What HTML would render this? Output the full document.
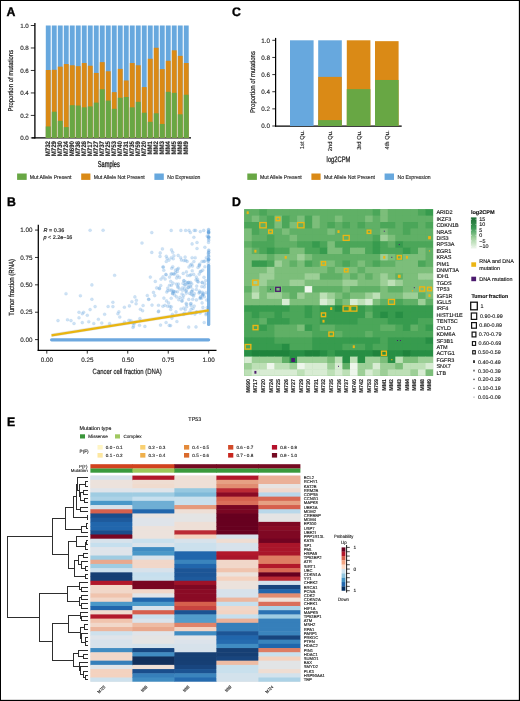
<!DOCTYPE html>
<html><head><meta charset="utf-8"><style>html,body{margin:0;padding:0;background:#fff;}svg{display:block;will-change:transform;}text{font-family:"Liberation Sans",sans-serif;}</style></head>
<body><svg width="520" height="701" viewBox="0 0 520 701" font-family="Liberation Sans, sans-serif" text-rendering="geometricPrecision">
<rect x="0.00" y="0.00" width="520.00" height="701.00" fill="#000"/>
<rect x="1.00" y="1.00" width="517.85" height="698.85" fill="#fff"/>
<text x="6.40" y="15.85" font-size="12.3" text-anchor="start" fill="#000" font-weight="bold" stroke="#000" stroke-width="0.35">A</text>
<text x="232.10" y="15.85" font-size="12.3" text-anchor="start" fill="#000" font-weight="bold" stroke="#000" stroke-width="0.35">C</text>
<text x="7.10" y="205.85" font-size="12.3" text-anchor="start" fill="#000" font-weight="bold" stroke="#000" stroke-width="0.35">B</text>
<text x="232.10" y="205.70" font-size="12.3" text-anchor="start" fill="#000" font-weight="bold" stroke="#000" stroke-width="0.35">D</text>
<text x="7.00" y="426.40" font-size="12.3" text-anchor="start" fill="#000" font-weight="bold" stroke="#000" stroke-width="0.35">E</text>
<line x1="34.90" y1="23.00" x2="34.90" y2="138.50" stroke="#000" stroke-width="1.3"/>
<line x1="31.80" y1="137.90" x2="191.00" y2="137.90" stroke="#000" stroke-width="1.3"/>
<line x1="30.80" y1="137.90" x2="34.90" y2="137.90" stroke="#000" stroke-width="0.8"/>
<text x="28.80" y="140.10" font-size="6.2" text-anchor="end" fill="#222" stroke="#222" stroke-width="0.12">0.0</text>
<line x1="30.80" y1="115.42" x2="34.90" y2="115.42" stroke="#000" stroke-width="0.8"/>
<text x="28.80" y="117.62" font-size="6.2" text-anchor="end" fill="#222" stroke="#222" stroke-width="0.12">0.2</text>
<line x1="30.80" y1="92.94" x2="34.90" y2="92.94" stroke="#000" stroke-width="0.8"/>
<text x="28.80" y="95.14" font-size="6.2" text-anchor="end" fill="#222" stroke="#222" stroke-width="0.12">0.4</text>
<line x1="30.80" y1="70.46" x2="34.90" y2="70.46" stroke="#000" stroke-width="0.8"/>
<text x="28.80" y="72.66" font-size="6.2" text-anchor="end" fill="#222" stroke="#222" stroke-width="0.12">0.6</text>
<line x1="30.80" y1="47.98" x2="34.90" y2="47.98" stroke="#000" stroke-width="0.8"/>
<text x="28.80" y="50.18" font-size="6.2" text-anchor="end" fill="#222" stroke="#222" stroke-width="0.12">0.8</text>
<line x1="30.80" y1="25.50" x2="34.90" y2="25.50" stroke="#000" stroke-width="0.8"/>
<text x="28.80" y="27.70" font-size="6.2" text-anchor="end" fill="#222" stroke="#222" stroke-width="0.12">1.0</text>
<text x="13.40" y="80.70" font-size="7.0" text-anchor="middle" fill="#1a1a1a" textLength="61.6" lengthAdjust="spacingAndGlyphs" transform="rotate(-90 13.40 80.70)" stroke="#1a1a1a" stroke-width="0.2">Proportion of mutations</text>
<rect x="45.80" y="25.50" width="4.90" height="112.40" fill="#67a8de"/>
<rect x="45.80" y="70.01" width="4.90" height="67.89" fill="#da8a16"/>
<rect x="45.80" y="126.44" width="4.90" height="11.46" fill="#68a744"/>
<text x="50.25" y="141.00" font-size="6.6" text-anchor="end" fill="#222" font-weight="bold" textLength="15.3" lengthAdjust="spacingAndGlyphs" transform="rotate(-90 50.25 141.00)" stroke="#222" stroke-width="0.12">M732</text>
<rect x="51.80" y="25.50" width="4.90" height="112.40" fill="#67a8de"/>
<rect x="51.80" y="69.79" width="4.90" height="68.11" fill="#da8a16"/>
<rect x="51.80" y="111.71" width="4.90" height="26.19" fill="#68a744"/>
<text x="56.25" y="141.00" font-size="6.6" text-anchor="end" fill="#222" font-weight="bold" textLength="15.3" lengthAdjust="spacingAndGlyphs" transform="rotate(-90 56.25 141.00)" stroke="#222" stroke-width="0.12">M729</text>
<rect x="57.80" y="25.50" width="4.90" height="112.40" fill="#67a8de"/>
<rect x="57.80" y="66.64" width="4.90" height="71.26" fill="#da8a16"/>
<rect x="57.80" y="120.82" width="4.90" height="17.08" fill="#68a744"/>
<text x="62.25" y="141.00" font-size="6.6" text-anchor="end" fill="#222" font-weight="bold" textLength="15.3" lengthAdjust="spacingAndGlyphs" transform="rotate(-90 62.25 141.00)" stroke="#222" stroke-width="0.12">M730</text>
<rect x="63.80" y="25.50" width="4.90" height="112.40" fill="#67a8de"/>
<rect x="63.80" y="64.05" width="4.90" height="73.85" fill="#da8a16"/>
<rect x="63.80" y="127.11" width="4.90" height="10.79" fill="#68a744"/>
<text x="68.25" y="141.00" font-size="6.6" text-anchor="end" fill="#222" font-weight="bold" textLength="15.3" lengthAdjust="spacingAndGlyphs" transform="rotate(-90 68.25 141.00)" stroke="#222" stroke-width="0.12">M724</text>
<rect x="69.80" y="25.50" width="4.90" height="112.40" fill="#67a8de"/>
<rect x="69.80" y="65.29" width="4.90" height="72.61" fill="#da8a16"/>
<rect x="69.80" y="105.19" width="4.90" height="32.71" fill="#68a744"/>
<text x="74.25" y="141.00" font-size="6.6" text-anchor="end" fill="#222" font-weight="bold" textLength="15.3" lengthAdjust="spacingAndGlyphs" transform="rotate(-90 74.25 141.00)" stroke="#222" stroke-width="0.12">M690</text>
<rect x="75.80" y="25.50" width="4.90" height="112.40" fill="#67a8de"/>
<rect x="75.80" y="66.19" width="4.90" height="71.71" fill="#da8a16"/>
<rect x="75.80" y="105.53" width="4.90" height="32.37" fill="#68a744"/>
<text x="80.25" y="141.00" font-size="6.6" text-anchor="end" fill="#222" font-weight="bold" textLength="15.3" lengthAdjust="spacingAndGlyphs" transform="rotate(-90 80.25 141.00)" stroke="#222" stroke-width="0.12">M736</text>
<rect x="81.80" y="25.50" width="4.90" height="112.40" fill="#67a8de"/>
<rect x="81.80" y="63.04" width="4.90" height="74.86" fill="#da8a16"/>
<rect x="81.80" y="107.33" width="4.90" height="30.57" fill="#68a744"/>
<text x="86.25" y="141.00" font-size="6.6" text-anchor="end" fill="#222" font-weight="bold" textLength="15.3" lengthAdjust="spacingAndGlyphs" transform="rotate(-90 86.25 141.00)" stroke="#222" stroke-width="0.12">M726</text>
<rect x="87.80" y="25.50" width="4.90" height="112.40" fill="#67a8de"/>
<rect x="87.80" y="65.74" width="4.90" height="72.16" fill="#da8a16"/>
<rect x="87.80" y="106.43" width="4.90" height="31.47" fill="#68a744"/>
<text x="92.25" y="141.00" font-size="6.6" text-anchor="end" fill="#222" font-weight="bold" textLength="15.3" lengthAdjust="spacingAndGlyphs" transform="rotate(-90 92.25 141.00)" stroke="#222" stroke-width="0.12">M717</text>
<rect x="93.80" y="25.50" width="4.90" height="112.40" fill="#67a8de"/>
<rect x="93.80" y="72.93" width="4.90" height="64.97" fill="#da8a16"/>
<rect x="93.80" y="102.61" width="4.90" height="35.29" fill="#68a744"/>
<text x="98.25" y="141.00" font-size="6.6" text-anchor="end" fill="#222" font-weight="bold" textLength="15.3" lengthAdjust="spacingAndGlyphs" transform="rotate(-90 98.25 141.00)" stroke="#222" stroke-width="0.12">M727</text>
<rect x="99.80" y="25.50" width="4.90" height="112.40" fill="#67a8de"/>
<rect x="99.80" y="62.14" width="4.90" height="75.76" fill="#da8a16"/>
<rect x="99.80" y="89.23" width="4.90" height="48.67" fill="#68a744"/>
<text x="104.25" y="141.00" font-size="6.6" text-anchor="end" fill="#222" font-weight="bold" textLength="15.3" lengthAdjust="spacingAndGlyphs" transform="rotate(-90 104.25 141.00)" stroke="#222" stroke-width="0.12">M737</text>
<rect x="105.80" y="25.50" width="4.90" height="112.40" fill="#67a8de"/>
<rect x="105.80" y="71.25" width="4.90" height="66.65" fill="#da8a16"/>
<rect x="105.80" y="100.58" width="4.90" height="37.32" fill="#68a744"/>
<text x="110.25" y="141.00" font-size="6.6" text-anchor="end" fill="#222" font-weight="bold" textLength="15.3" lengthAdjust="spacingAndGlyphs" transform="rotate(-90 110.25 141.00)" stroke="#222" stroke-width="0.12">M725</text>
<rect x="111.80" y="25.50" width="4.90" height="112.40" fill="#67a8de"/>
<rect x="111.80" y="92.15" width="4.90" height="45.75" fill="#da8a16"/>
<rect x="111.80" y="108.79" width="4.90" height="29.11" fill="#68a744"/>
<text x="116.25" y="141.00" font-size="6.6" text-anchor="end" fill="#222" font-weight="bold" textLength="15.3" lengthAdjust="spacingAndGlyphs" transform="rotate(-90 116.25 141.00)" stroke="#222" stroke-width="0.12">M753</text>
<rect x="117.80" y="25.50" width="4.90" height="112.40" fill="#67a8de"/>
<rect x="117.80" y="68.89" width="4.90" height="69.01" fill="#da8a16"/>
<rect x="117.80" y="97.77" width="4.90" height="40.13" fill="#68a744"/>
<text x="122.25" y="141.00" font-size="6.6" text-anchor="end" fill="#222" font-weight="bold" textLength="15.3" lengthAdjust="spacingAndGlyphs" transform="rotate(-90 122.25 141.00)" stroke="#222" stroke-width="0.12">M740</text>
<rect x="123.80" y="25.50" width="4.90" height="112.40" fill="#67a8de"/>
<rect x="123.80" y="80.46" width="4.90" height="57.44" fill="#da8a16"/>
<rect x="123.80" y="96.99" width="4.90" height="40.91" fill="#68a744"/>
<text x="128.25" y="141.00" font-size="6.6" text-anchor="end" fill="#222" font-weight="bold" textLength="15.3" lengthAdjust="spacingAndGlyphs" transform="rotate(-90 128.25 141.00)" stroke="#222" stroke-width="0.12">M731</text>
<rect x="129.80" y="25.50" width="4.90" height="112.40" fill="#67a8de"/>
<rect x="129.80" y="63.04" width="4.90" height="74.86" fill="#da8a16"/>
<rect x="129.80" y="107.33" width="4.90" height="30.57" fill="#68a744"/>
<text x="134.25" y="141.00" font-size="6.6" text-anchor="end" fill="#222" font-weight="bold" textLength="15.3" lengthAdjust="spacingAndGlyphs" transform="rotate(-90 134.25 141.00)" stroke="#222" stroke-width="0.12">M735</text>
<rect x="135.80" y="25.50" width="4.90" height="112.40" fill="#67a8de"/>
<rect x="135.80" y="65.29" width="4.90" height="72.61" fill="#da8a16"/>
<rect x="135.80" y="101.82" width="4.90" height="36.08" fill="#68a744"/>
<text x="140.25" y="141.00" font-size="6.6" text-anchor="end" fill="#222" font-weight="bold" textLength="15.3" lengthAdjust="spacingAndGlyphs" transform="rotate(-90 140.25 141.00)" stroke="#222" stroke-width="0.12">M759</text>
<rect x="141.80" y="25.50" width="4.90" height="112.40" fill="#67a8de"/>
<rect x="141.80" y="87.10" width="4.90" height="50.80" fill="#da8a16"/>
<rect x="141.80" y="112.72" width="4.90" height="25.18" fill="#68a744"/>
<text x="146.25" y="141.00" font-size="6.6" text-anchor="end" fill="#222" font-weight="bold" textLength="15.3" lengthAdjust="spacingAndGlyphs" transform="rotate(-90 146.25 141.00)" stroke="#222" stroke-width="0.12">M720</text>
<rect x="147.80" y="25.50" width="4.90" height="112.40" fill="#67a8de"/>
<rect x="147.80" y="58.77" width="4.90" height="79.13" fill="#da8a16"/>
<rect x="147.80" y="121.83" width="4.90" height="16.07" fill="#68a744"/>
<text x="152.25" y="141.00" font-size="6.6" text-anchor="end" fill="#222" font-weight="bold" textLength="13.6" lengthAdjust="spacingAndGlyphs" transform="rotate(-90 152.25 141.00)" stroke="#222" stroke-width="0.12">MM1</text>
<rect x="153.80" y="25.50" width="4.90" height="112.40" fill="#67a8de"/>
<rect x="153.80" y="47.76" width="4.90" height="90.14" fill="#da8a16"/>
<rect x="153.80" y="113.28" width="4.90" height="24.62" fill="#68a744"/>
<text x="158.25" y="141.00" font-size="6.6" text-anchor="end" fill="#222" font-weight="bold" textLength="13.6" lengthAdjust="spacingAndGlyphs" transform="rotate(-90 158.25 141.00)" stroke="#222" stroke-width="0.12">MM2</text>
<rect x="159.80" y="25.50" width="4.90" height="112.40" fill="#67a8de"/>
<rect x="159.80" y="69.11" width="4.90" height="68.79" fill="#da8a16"/>
<rect x="159.80" y="123.96" width="4.90" height="13.94" fill="#68a744"/>
<text x="164.25" y="141.00" font-size="6.6" text-anchor="end" fill="#222" font-weight="bold" textLength="13.6" lengthAdjust="spacingAndGlyphs" transform="rotate(-90 164.25 141.00)" stroke="#222" stroke-width="0.12">MM3</text>
<rect x="165.80" y="25.50" width="4.90" height="112.40" fill="#67a8de"/>
<rect x="165.80" y="60.79" width="4.90" height="77.11" fill="#da8a16"/>
<rect x="165.80" y="91.82" width="4.90" height="46.08" fill="#68a744"/>
<text x="170.25" y="141.00" font-size="6.6" text-anchor="end" fill="#222" font-weight="bold" textLength="13.6" lengthAdjust="spacingAndGlyphs" transform="rotate(-90 170.25 141.00)" stroke="#222" stroke-width="0.12">MM4</text>
<rect x="171.80" y="25.50" width="4.90" height="112.40" fill="#67a8de"/>
<rect x="171.80" y="50.34" width="4.90" height="87.56" fill="#da8a16"/>
<rect x="171.80" y="92.83" width="4.90" height="45.07" fill="#68a744"/>
<text x="176.25" y="141.00" font-size="6.6" text-anchor="end" fill="#222" font-weight="bold" textLength="13.6" lengthAdjust="spacingAndGlyphs" transform="rotate(-90 176.25 141.00)" stroke="#222" stroke-width="0.12">MM5</text>
<rect x="177.80" y="25.50" width="4.90" height="112.40" fill="#67a8de"/>
<rect x="177.80" y="55.85" width="4.90" height="82.05" fill="#da8a16"/>
<rect x="177.80" y="114.30" width="4.90" height="23.60" fill="#68a744"/>
<text x="182.25" y="141.00" font-size="6.6" text-anchor="end" fill="#222" font-weight="bold" textLength="13.6" lengthAdjust="spacingAndGlyphs" transform="rotate(-90 182.25 141.00)" stroke="#222" stroke-width="0.12">MM8</text>
<rect x="183.80" y="25.50" width="4.90" height="112.40" fill="#67a8de"/>
<rect x="183.80" y="63.04" width="4.90" height="74.86" fill="#da8a16"/>
<rect x="183.80" y="94.74" width="4.90" height="43.16" fill="#68a744"/>
<text x="188.25" y="141.00" font-size="6.6" text-anchor="end" fill="#222" font-weight="bold" textLength="13.6" lengthAdjust="spacingAndGlyphs" transform="rotate(-90 188.25 141.00)" stroke="#222" stroke-width="0.12">MM9</text>
<text x="108.80" y="167.40" font-size="8.6" text-anchor="middle" fill="#1a1a1a" textLength="22" lengthAdjust="spacingAndGlyphs" stroke="#1a1a1a" stroke-width="0.3">Samples</text>
<rect x="17.10" y="173.50" width="9.60" height="6.40" fill="#68a744"/>
<text x="29.80" y="178.80" font-size="5.6" text-anchor="start" fill="#222" textLength="41.7" lengthAdjust="spacingAndGlyphs" stroke="#222" stroke-width="0.12">Mut Allele Present</text>
<rect x="81.20" y="173.50" width="9.20" height="6.40" fill="#da8a16"/>
<text x="93.70" y="178.80" font-size="5.6" text-anchor="start" fill="#222" textLength="51.1" lengthAdjust="spacingAndGlyphs" stroke="#222" stroke-width="0.12">Mut Allele Not Present</text>
<rect x="154.40" y="173.50" width="9.40" height="6.40" fill="#67a8de"/>
<text x="167.30" y="178.80" font-size="5.6" text-anchor="start" fill="#222" textLength="33.1" lengthAdjust="spacingAndGlyphs" stroke="#222" stroke-width="0.12">No Expression</text>
<rect x="247.30" y="173.50" width="9.60" height="6.40" fill="#68a744"/>
<text x="260.00" y="178.80" font-size="5.6" text-anchor="start" fill="#222" textLength="41.7" lengthAdjust="spacingAndGlyphs" stroke="#222" stroke-width="0.12">Mut Allele Present</text>
<rect x="311.40" y="173.50" width="9.20" height="6.40" fill="#da8a16"/>
<text x="323.90" y="178.80" font-size="5.6" text-anchor="start" fill="#222" textLength="51.1" lengthAdjust="spacingAndGlyphs" stroke="#222" stroke-width="0.12">Mut Allele Not Present</text>
<rect x="384.60" y="173.50" width="9.40" height="6.40" fill="#67a8de"/>
<text x="397.50" y="178.80" font-size="5.6" text-anchor="start" fill="#222" textLength="33.1" lengthAdjust="spacingAndGlyphs" stroke="#222" stroke-width="0.12">No Expression</text>
<line x1="275.60" y1="37.90" x2="275.60" y2="126.60" stroke="#000" stroke-width="1.25"/>
<line x1="275.00" y1="126.00" x2="401.70" y2="126.00" stroke="#000" stroke-width="1.25"/>
<line x1="272.30" y1="126.00" x2="275.60" y2="126.00" stroke="#000" stroke-width="0.8"/>
<text x="270.00" y="128.25" font-size="6.3" text-anchor="end" fill="#222" stroke="#222" stroke-width="0.12">0.0</text>
<line x1="272.30" y1="108.86" x2="275.60" y2="108.86" stroke="#000" stroke-width="0.8"/>
<text x="270.00" y="111.11" font-size="6.3" text-anchor="end" fill="#222" stroke="#222" stroke-width="0.12">0.2</text>
<line x1="272.30" y1="91.72" x2="275.60" y2="91.72" stroke="#000" stroke-width="0.8"/>
<text x="270.00" y="93.97" font-size="6.3" text-anchor="end" fill="#222" stroke="#222" stroke-width="0.12">0.4</text>
<line x1="272.30" y1="74.58" x2="275.60" y2="74.58" stroke="#000" stroke-width="0.8"/>
<text x="270.00" y="76.83" font-size="6.3" text-anchor="end" fill="#222" stroke="#222" stroke-width="0.12">0.6</text>
<line x1="272.30" y1="57.44" x2="275.60" y2="57.44" stroke="#000" stroke-width="0.8"/>
<text x="270.00" y="59.69" font-size="6.3" text-anchor="end" fill="#222" stroke="#222" stroke-width="0.12">0.8</text>
<line x1="272.30" y1="40.30" x2="275.60" y2="40.30" stroke="#000" stroke-width="0.8"/>
<text x="270.00" y="42.55" font-size="6.3" text-anchor="end" fill="#222" stroke="#222" stroke-width="0.12">1.0</text>
<text x="254.80" y="82.00" font-size="7.0" text-anchor="middle" fill="#1a1a1a" textLength="61.8" lengthAdjust="spacingAndGlyphs" transform="rotate(-90 254.80 82.00)" stroke="#1a1a1a" stroke-width="0.2">Proportion of mutations</text>
<rect x="290.00" y="40.30" width="23.60" height="85.70" fill="#67a8de"/>
<text x="303.80" y="130.50" font-size="5.8" text-anchor="end" fill="#222" transform="rotate(-90 303.80 130.50)" stroke="#222" stroke-width="0.12">1st Qu.</text>
<rect x="318.20" y="40.30" width="23.60" height="85.70" fill="#67a8de"/>
<rect x="318.20" y="76.89" width="23.60" height="49.11" fill="#da8a16"/>
<rect x="318.20" y="120.09" width="23.60" height="5.91" fill="#68a744"/>
<text x="332.00" y="130.50" font-size="5.8" text-anchor="end" fill="#222" transform="rotate(-90 332.00 130.50)" stroke="#222" stroke-width="0.12">2nd Qu.</text>
<rect x="346.80" y="40.30" width="23.60" height="85.70" fill="#da8a16"/>
<rect x="346.80" y="89.15" width="23.60" height="36.85" fill="#68a744"/>
<text x="360.60" y="130.50" font-size="5.8" text-anchor="end" fill="#222" transform="rotate(-90 360.60 130.50)" stroke="#222" stroke-width="0.12">3rd Qu.</text>
<rect x="375.00" y="41.16" width="23.60" height="84.84" fill="#da8a16"/>
<rect x="375.00" y="79.98" width="23.60" height="46.02" fill="#68a744"/>
<text x="388.80" y="130.50" font-size="5.8" text-anchor="end" fill="#222" transform="rotate(-90 388.80 130.50)" stroke="#222" stroke-width="0.12">4th Qu.</text>
<text x="338.50" y="161.70" font-size="8.0" text-anchor="middle" fill="#1a1a1a" textLength="23.8" lengthAdjust="spacingAndGlyphs" stroke="#1a1a1a" stroke-width="0.25">log2CPM</text>
<line x1="38.30" y1="224.70" x2="38.30" y2="351.00" stroke="#000" stroke-width="1.25"/>
<line x1="37.70" y1="350.40" x2="216.50" y2="350.40" stroke="#000" stroke-width="1.25"/>
<line x1="35.00" y1="339.60" x2="38.30" y2="339.60" stroke="#000" stroke-width="0.8"/>
<text x="32.60" y="341.85" font-size="6.3" text-anchor="end" fill="#222" stroke="#222" stroke-width="0.12">0.00</text>
<line x1="46.80" y1="350.40" x2="46.80" y2="353.60" stroke="#000" stroke-width="0.8"/>
<text x="46.80" y="362.40" font-size="6.3" text-anchor="middle" fill="#222" stroke="#222" stroke-width="0.12">0.00</text>
<line x1="35.00" y1="312.22" x2="38.30" y2="312.22" stroke="#000" stroke-width="0.8"/>
<text x="32.60" y="314.47" font-size="6.3" text-anchor="end" fill="#222" stroke="#222" stroke-width="0.12">0.25</text>
<line x1="87.28" y1="350.40" x2="87.28" y2="353.60" stroke="#000" stroke-width="0.8"/>
<text x="87.28" y="362.40" font-size="6.3" text-anchor="middle" fill="#222" stroke="#222" stroke-width="0.12">0.25</text>
<line x1="35.00" y1="284.84" x2="38.30" y2="284.84" stroke="#000" stroke-width="0.8"/>
<text x="32.60" y="287.09" font-size="6.3" text-anchor="end" fill="#222" stroke="#222" stroke-width="0.12">0.50</text>
<line x1="127.76" y1="350.40" x2="127.76" y2="353.60" stroke="#000" stroke-width="0.8"/>
<text x="127.76" y="362.40" font-size="6.3" text-anchor="middle" fill="#222" stroke="#222" stroke-width="0.12">0.50</text>
<line x1="35.00" y1="257.46" x2="38.30" y2="257.46" stroke="#000" stroke-width="0.8"/>
<text x="32.60" y="259.71" font-size="6.3" text-anchor="end" fill="#222" stroke="#222" stroke-width="0.12">0.75</text>
<line x1="168.24" y1="350.40" x2="168.24" y2="353.60" stroke="#000" stroke-width="0.8"/>
<text x="168.24" y="362.40" font-size="6.3" text-anchor="middle" fill="#222" stroke="#222" stroke-width="0.12">0.75</text>
<line x1="35.00" y1="230.08" x2="38.30" y2="230.08" stroke="#000" stroke-width="0.8"/>
<text x="32.60" y="232.33" font-size="6.3" text-anchor="end" fill="#222" stroke="#222" stroke-width="0.12">1.00</text>
<line x1="208.72" y1="350.40" x2="208.72" y2="353.60" stroke="#000" stroke-width="0.8"/>
<text x="208.72" y="362.40" font-size="6.3" text-anchor="middle" fill="#222" stroke="#222" stroke-width="0.12">1.00</text>
<text x="14.50" y="287.40" font-size="7.4" text-anchor="middle" fill="#1a1a1a" textLength="56.8" lengthAdjust="spacingAndGlyphs" transform="rotate(-90 14.50 287.40)" stroke="#1a1a1a" stroke-width="0.2">Tumor fraction (RNA)</text>
<text x="127.20" y="373.90" font-size="7.6" text-anchor="middle" fill="#1a1a1a" textLength="69.2" lengthAdjust="spacingAndGlyphs" stroke="#1a1a1a" stroke-width="0.2">Cancer cell fraction (DNA)</text>
<text x="43.6" y="232.4" font-size="5.4" fill="#222" stroke="#222" stroke-width="0.18"><tspan font-style="italic">R</tspan> = 0.36</text>
<text x="43.6" y="239.1" font-size="5.4" fill="#222" stroke="#222" stroke-width="0.18"><tspan font-style="italic">p</tspan> &lt; 2.2e−16</text>
<rect x="207.0" y="264.0" width="3.3" height="62" rx="1.6" fill="#5d9fdb" fill-opacity="0.8"/>
<rect x="50.0" y="338.2" width="160.2" height="3.2" rx="1.6" fill="#5d9fdb" fill-opacity="0.9"/>
<g fill="#5d9fdb" fill-opacity="0.3" stroke="#5d9fdb" stroke-opacity="0.18" stroke-width="0.5">
<circle cx="90.1" cy="230.2" r="1.55"/>
<circle cx="103.1" cy="230.2" r="1.55"/>
<circle cx="114.6" cy="275.3" r="1.55"/>
<circle cx="91.9" cy="284.9" r="1.55"/>
<circle cx="66.0" cy="293.7" r="1.55"/>
<circle cx="80.4" cy="295.7" r="1.55"/>
<circle cx="91.9" cy="299.2" r="1.55"/>
<circle cx="112.9" cy="302.2" r="1.55"/>
<circle cx="95.1" cy="306.6" r="1.55"/>
<circle cx="108.1" cy="306.5" r="1.55"/>
<circle cx="112.9" cy="306.6" r="1.55"/>
<circle cx="124.4" cy="307.2" r="1.55"/>
<circle cx="90.1" cy="309.6" r="1.55"/>
<circle cx="79.0" cy="312.2" r="1.55"/>
<circle cx="83.6" cy="312.2" r="1.55"/>
<circle cx="82.3" cy="313.7" r="1.55"/>
<circle cx="118.9" cy="311.8" r="1.55"/>
<circle cx="117.9" cy="313.7" r="1.55"/>
<circle cx="87.3" cy="315.2" r="1.55"/>
<circle cx="104.6" cy="314.2" r="1.55"/>
<circle cx="119.8" cy="317.0" r="1.55"/>
<circle cx="79.0" cy="317.8" r="1.55"/>
<circle cx="58.0" cy="320.6" r="1.55"/>
<circle cx="67.5" cy="319.8" r="1.55"/>
<circle cx="71.0" cy="320.6" r="1.55"/>
<circle cx="74.0" cy="323.5" r="1.55"/>
<circle cx="82.3" cy="322.6" r="1.55"/>
<circle cx="88.8" cy="321.7" r="1.55"/>
<circle cx="93.8" cy="323.5" r="1.55"/>
<circle cx="98.4" cy="319.3" r="1.55"/>
<circle cx="101.8" cy="323.0" r="1.55"/>
<circle cx="109.6" cy="323.5" r="1.55"/>
<circle cx="124.4" cy="322.0" r="1.55"/>
<circle cx="129.0" cy="320.2" r="1.55"/>
<circle cx="151.8" cy="232.6" r="1.55"/>
<circle cx="171.2" cy="230.4" r="1.55"/>
<circle cx="180.9" cy="230.4" r="1.55"/>
<circle cx="185.6" cy="230.4" r="1.55"/>
<circle cx="189.0" cy="230.4" r="1.55"/>
<circle cx="190.4" cy="232.5" r="1.55"/>
<circle cx="194.2" cy="230.4" r="1.55"/>
<circle cx="195.6" cy="230.4" r="1.55"/>
<circle cx="200.3" cy="231.6" r="1.55"/>
<circle cx="203.7" cy="230.4" r="1.55"/>
<circle cx="207.2" cy="236.1" r="1.55"/>
<circle cx="193.9" cy="237.3" r="1.55"/>
<circle cx="142.0" cy="243.0" r="1.55"/>
<circle cx="192.1" cy="243.9" r="1.55"/>
<circle cx="197.0" cy="242.5" r="1.55"/>
<circle cx="197.0" cy="248.5" r="1.55"/>
<circle cx="204.9" cy="247.2" r="1.55"/>
<circle cx="151.8" cy="252.4" r="1.55"/>
<circle cx="166.3" cy="256.3" r="1.55"/>
<circle cx="171.2" cy="257.7" r="1.55"/>
<circle cx="180.7" cy="257.7" r="1.55"/>
<circle cx="192.1" cy="257.7" r="1.55"/>
<circle cx="206.3" cy="257.7" r="1.55"/>
<circle cx="166.3" cy="261.5" r="1.55"/>
<circle cx="185.6" cy="260.3" r="1.55"/>
<circle cx="193.9" cy="261.5" r="1.55"/>
<circle cx="202.0" cy="261.5" r="1.55"/>
<circle cx="163.1" cy="266.7" r="1.55"/>
<circle cx="172.8" cy="266.7" r="1.55"/>
<circle cx="190.4" cy="265.0" r="1.55"/>
<circle cx="189.0" cy="267.0" r="1.55"/>
<circle cx="177.4" cy="269.3" r="1.55"/>
<circle cx="177.4" cy="271.4" r="1.55"/>
<circle cx="204.9" cy="266.7" r="1.55"/>
<circle cx="186.4" cy="271.9" r="1.55"/>
<circle cx="200.3" cy="271.6" r="1.55"/>
<circle cx="174.3" cy="274.2" r="1.55"/>
<circle cx="150.3" cy="277.1" r="1.55"/>
<circle cx="169.5" cy="277.1" r="1.55"/>
<circle cx="179.5" cy="277.4" r="1.55"/>
<circle cx="155.3" cy="281.4" r="1.55"/>
<circle cx="181.7" cy="301.0" r="1.55"/>
<circle cx="165.0" cy="305.3" r="1.55"/>
<circle cx="190.8" cy="287.0" r="1.55"/>
<circle cx="189.7" cy="293.4" r="1.55"/>
<circle cx="160.8" cy="285.5" r="1.55"/>
<circle cx="166.8" cy="292.0" r="1.55"/>
<circle cx="186.3" cy="293.1" r="1.55"/>
<circle cx="176.4" cy="284.1" r="1.55"/>
<circle cx="194.2" cy="306.1" r="1.55"/>
<circle cx="185.1" cy="284.5" r="1.55"/>
<circle cx="205.9" cy="314.6" r="1.55"/>
<circle cx="180.0" cy="297.4" r="1.55"/>
<circle cx="171.2" cy="298.2" r="1.55"/>
<circle cx="200.4" cy="297.5" r="1.55"/>
<circle cx="173.7" cy="273.8" r="1.55"/>
<circle cx="184.0" cy="280.9" r="1.55"/>
<circle cx="191.3" cy="294.2" r="1.55"/>
<circle cx="175.3" cy="291.8" r="1.55"/>
<circle cx="196.0" cy="279.9" r="1.55"/>
<circle cx="192.7" cy="295.0" r="1.55"/>
<circle cx="187.5" cy="282.9" r="1.55"/>
<circle cx="196.6" cy="312.0" r="1.55"/>
<circle cx="177.6" cy="275.8" r="1.55"/>
<circle cx="202.2" cy="282.8" r="1.55"/>
<circle cx="197.6" cy="281.4" r="1.55"/>
<circle cx="169.2" cy="325.4" r="1.55"/>
<circle cx="186.1" cy="290.3" r="1.55"/>
<circle cx="189.0" cy="282.5" r="1.55"/>
<circle cx="161.0" cy="279.1" r="1.55"/>
<circle cx="192.2" cy="270.7" r="1.55"/>
<circle cx="202.2" cy="282.2" r="1.55"/>
<circle cx="193.0" cy="308.5" r="1.55"/>
<circle cx="192.5" cy="266.0" r="1.55"/>
<circle cx="204.4" cy="296.8" r="1.55"/>
<circle cx="188.4" cy="287.6" r="1.55"/>
<circle cx="196.7" cy="286.1" r="1.55"/>
<circle cx="194.9" cy="314.1" r="1.55"/>
<circle cx="179.8" cy="289.0" r="1.55"/>
<circle cx="184.6" cy="288.6" r="1.55"/>
<circle cx="187.9" cy="287.6" r="1.55"/>
<circle cx="172.9" cy="293.4" r="1.55"/>
<circle cx="198.9" cy="293.0" r="1.55"/>
<circle cx="170.1" cy="290.2" r="1.55"/>
<circle cx="202.1" cy="302.9" r="1.55"/>
<circle cx="165.8" cy="274.4" r="1.55"/>
<circle cx="202.4" cy="295.2" r="1.55"/>
<circle cx="200.5" cy="296.9" r="1.55"/>
<circle cx="185.9" cy="282.1" r="1.55"/>
<circle cx="183.4" cy="314.4" r="1.55"/>
<circle cx="171.7" cy="268.3" r="1.55"/>
<circle cx="173.4" cy="291.1" r="1.55"/>
<circle cx="188.8" cy="299.4" r="1.55"/>
<circle cx="192.8" cy="289.9" r="1.55"/>
<circle cx="186.1" cy="291.2" r="1.55"/>
<circle cx="183.9" cy="260.6" r="1.55"/>
<circle cx="196.3" cy="277.0" r="1.55"/>
<circle cx="190.0" cy="275.6" r="1.55"/>
<circle cx="163.0" cy="276.9" r="1.55"/>
<circle cx="202.9" cy="295.0" r="1.55"/>
<circle cx="199.8" cy="264.0" r="1.55"/>
<circle cx="184.9" cy="285.1" r="1.55"/>
<circle cx="194.4" cy="293.6" r="1.55"/>
<circle cx="163.9" cy="298.1" r="1.55"/>
<circle cx="172.5" cy="293.7" r="1.55"/>
<circle cx="182.5" cy="290.3" r="1.55"/>
<circle cx="171.7" cy="290.1" r="1.55"/>
<circle cx="167.8" cy="288.1" r="1.55"/>
<circle cx="202.2" cy="292.2" r="1.55"/>
<circle cx="193.7" cy="295.9" r="1.55"/>
<circle cx="182.9" cy="298.0" r="1.55"/>
<circle cx="183.7" cy="308.1" r="1.55"/>
<circle cx="207.2" cy="307.6" r="1.55"/>
<circle cx="188.1" cy="284.5" r="1.55"/>
<circle cx="167.8" cy="290.6" r="1.55"/>
<circle cx="182.6" cy="287.7" r="1.55"/>
<circle cx="172.4" cy="314.3" r="1.55"/>
<circle cx="158.5" cy="305.2" r="1.55"/>
<circle cx="171.4" cy="285.2" r="1.55"/>
<circle cx="191.1" cy="305.7" r="1.55"/>
<circle cx="206.0" cy="292.7" r="1.55"/>
<circle cx="201.8" cy="286.6" r="1.55"/>
<circle cx="183.8" cy="280.5" r="1.55"/>
<circle cx="172.8" cy="292.2" r="1.55"/>
<circle cx="199.2" cy="274.1" r="1.55"/>
<circle cx="182.0" cy="294.0" r="1.55"/>
<circle cx="206.5" cy="313.4" r="1.55"/>
<circle cx="201.5" cy="298.3" r="1.55"/>
<circle cx="198.0" cy="267.5" r="1.55"/>
<circle cx="176.6" cy="277.9" r="1.55"/>
<circle cx="159.5" cy="288.7" r="1.55"/>
<circle cx="159.3" cy="288.1" r="1.55"/>
<circle cx="196.4" cy="299.9" r="1.55"/>
<circle cx="204.9" cy="261.1" r="1.55"/>
<circle cx="206.7" cy="300.0" r="1.55"/>
<circle cx="204.8" cy="283.9" r="1.55"/>
<circle cx="176.6" cy="296.9" r="1.55"/>
<circle cx="174.7" cy="295.1" r="1.55"/>
<circle cx="202.9" cy="307.4" r="1.55"/>
<circle cx="201.1" cy="271.2" r="1.55"/>
<circle cx="199.9" cy="292.4" r="1.55"/>
<circle cx="166.2" cy="274.8" r="1.55"/>
<circle cx="199.3" cy="265.9" r="1.55"/>
<circle cx="198.3" cy="281.9" r="1.55"/>
<circle cx="199.5" cy="291.1" r="1.55"/>
<circle cx="182.2" cy="300.9" r="1.55"/>
<circle cx="185.1" cy="257.0" r="1.55"/>
<circle cx="185.3" cy="309.7" r="1.55"/>
<circle cx="173.0" cy="283.1" r="1.55"/>
<circle cx="169.9" cy="306.4" r="1.55"/>
<circle cx="200.1" cy="312.9" r="1.55"/>
<circle cx="171.3" cy="306.8" r="1.55"/>
<circle cx="195.2" cy="257.7" r="1.55"/>
<circle cx="183.0" cy="283.4" r="1.55"/>
<circle cx="156.7" cy="287.9" r="1.55"/>
<circle cx="205.6" cy="280.6" r="1.55"/>
<circle cx="204.0" cy="277.2" r="1.55"/>
<circle cx="186.7" cy="306.8" r="1.55"/>
<circle cx="175.6" cy="272.5" r="1.55"/>
<circle cx="178.0" cy="287.4" r="1.55"/>
<circle cx="192.7" cy="299.3" r="1.55"/>
<circle cx="178.4" cy="284.0" r="1.55"/>
<circle cx="203.2" cy="293.4" r="1.55"/>
<circle cx="183.2" cy="273.4" r="1.55"/>
<circle cx="203.0" cy="294.5" r="1.55"/>
<circle cx="186.2" cy="303.3" r="1.55"/>
<circle cx="190.7" cy="282.4" r="1.55"/>
<circle cx="190.4" cy="303.9" r="1.55"/>
<circle cx="173.9" cy="291.6" r="1.55"/>
<circle cx="153.5" cy="292.4" r="1.55"/>
<circle cx="188.4" cy="282.4" r="1.55"/>
<circle cx="197.5" cy="279.2" r="1.55"/>
<circle cx="190.2" cy="286.0" r="1.55"/>
<circle cx="191.6" cy="291.3" r="1.55"/>
<circle cx="191.8" cy="284.0" r="1.55"/>
<circle cx="177.8" cy="286.2" r="1.55"/>
<circle cx="189.7" cy="312.0" r="1.55"/>
<circle cx="191.8" cy="291.8" r="1.55"/>
<circle cx="187.1" cy="261.4" r="1.55"/>
<circle cx="193.7" cy="274.4" r="1.55"/>
<circle cx="196.4" cy="289.5" r="1.55"/>
<circle cx="187.5" cy="275.5" r="1.55"/>
<circle cx="204.3" cy="286.9" r="1.55"/>
<circle cx="196.6" cy="312.2" r="1.55"/>
<circle cx="178.4" cy="268.3" r="1.55"/>
<circle cx="191.7" cy="313.3" r="1.55"/>
<circle cx="170.7" cy="281.3" r="1.55"/>
<circle cx="169.5" cy="285.3" r="1.55"/>
<circle cx="177.4" cy="291.8" r="1.55"/>
<circle cx="165.1" cy="279.0" r="1.55"/>
<circle cx="202.8" cy="270.1" r="1.55"/>
<circle cx="139.9" cy="318.6" r="1.55"/>
<circle cx="178.8" cy="299.7" r="1.55"/>
<circle cx="196.0" cy="326.9" r="1.55"/>
<circle cx="144.9" cy="326.4" r="1.55"/>
<circle cx="158.7" cy="311.1" r="1.55"/>
<circle cx="204.2" cy="322.5" r="1.55"/>
<circle cx="140.4" cy="309.2" r="1.55"/>
<circle cx="167.7" cy="306.2" r="1.55"/>
<circle cx="143.1" cy="305.5" r="1.55"/>
<circle cx="183.6" cy="295.6" r="1.55"/>
<circle cx="170.7" cy="309.5" r="1.55"/>
<circle cx="129.4" cy="305.9" r="1.55"/>
<circle cx="176.0" cy="311.9" r="1.55"/>
<circle cx="133.0" cy="327.5" r="1.55"/>
<circle cx="188.7" cy="327.1" r="1.55"/>
<circle cx="136.1" cy="303.8" r="1.55"/>
<circle cx="131.0" cy="320.7" r="1.55"/>
<circle cx="148.8" cy="299.3" r="1.55"/>
<circle cx="160.5" cy="325.1" r="1.55"/>
<circle cx="191.1" cy="303.5" r="1.55"/>
<circle cx="139.5" cy="325.3" r="1.55"/>
<circle cx="171.9" cy="318.1" r="1.55"/>
<circle cx="134.9" cy="296.9" r="1.55"/>
<circle cx="181.0" cy="309.0" r="1.55"/>
<circle cx="133.6" cy="326.0" r="1.55"/>
<circle cx="176.9" cy="321.5" r="1.55"/>
<circle cx="134.4" cy="323.3" r="1.55"/>
<circle cx="133.1" cy="323.5" r="1.55"/>
<circle cx="162.9" cy="306.2" r="1.55"/>
<circle cx="170.6" cy="325.6" r="1.55"/>
<circle cx="148.6" cy="299.3" r="1.55"/>
<circle cx="168.6" cy="302.9" r="1.55"/>
<circle cx="136.4" cy="300.3" r="1.55"/>
<circle cx="131.9" cy="301.7" r="1.55"/>
<circle cx="152.0" cy="305.1" r="1.55"/>
<circle cx="186.5" cy="304.6" r="1.55"/>
<circle cx="166.5" cy="300.9" r="1.55"/>
<circle cx="154.7" cy="295.6" r="1.55"/>
<circle cx="147.3" cy="295.5" r="1.55"/>
<circle cx="184.4" cy="313.2" r="1.55"/>
<circle cx="142.6" cy="310.7" r="1.55"/>
<circle cx="200.0" cy="298.5" r="1.55"/>
<circle cx="191.1" cy="309.3" r="1.55"/>
<circle cx="166.1" cy="322.5" r="1.55"/>
<circle cx="158.3" cy="311.7" r="1.55"/>
<circle cx="190.9" cy="274.5" r="1.55"/>
<circle cx="175.4" cy="270.0" r="1.55"/>
<circle cx="191.8" cy="264.1" r="1.55"/>
<circle cx="178.2" cy="255.4" r="1.55"/>
<circle cx="162.4" cy="248.9" r="1.55"/>
<circle cx="163.2" cy="267.2" r="1.55"/>
<circle cx="171.5" cy="249.9" r="1.55"/>
<circle cx="163.8" cy="270.2" r="1.55"/>
<circle cx="199.2" cy="265.1" r="1.55"/>
<circle cx="172.7" cy="252.3" r="1.55"/>
<circle cx="173.2" cy="258.8" r="1.55"/>
<circle cx="167.1" cy="258.4" r="1.55"/>
<circle cx="171.8" cy="273.9" r="1.55"/>
<circle cx="203.8" cy="261.4" r="1.55"/>
<circle cx="171.0" cy="274.0" r="1.55"/>
<circle cx="173.9" cy="255.7" r="1.55"/>
<circle cx="160.0" cy="256.4" r="1.55"/>
<circle cx="181.4" cy="260.1" r="1.55"/>
<circle cx="169.0" cy="260.1" r="1.55"/>
<circle cx="160.2" cy="252.9" r="1.55"/>
<circle cx="208.8" cy="237.2" r="1.55"/>
<circle cx="208.7" cy="236.6" r="1.55"/>
<circle cx="208.6" cy="252.4" r="1.55"/>
<circle cx="208.7" cy="250.8" r="1.55"/>
<circle cx="208.6" cy="256.0" r="1.55"/>
<circle cx="208.3" cy="260.6" r="1.55"/>
<circle cx="208.5" cy="263.6" r="1.55"/>
<circle cx="208.7" cy="240.2" r="1.55"/>
<circle cx="208.6" cy="237.2" r="1.55"/>
<circle cx="208.3" cy="259.4" r="1.55"/>
<circle cx="208.8" cy="256.5" r="1.55"/>
<circle cx="208.4" cy="258.7" r="1.55"/>
<circle cx="208.8" cy="250.1" r="1.55"/>
<circle cx="208.8" cy="259.4" r="1.55"/>
<circle cx="208.7" cy="252.4" r="1.55"/>
<circle cx="208.2" cy="261.0" r="1.55"/>
<circle cx="208.5" cy="242.4" r="1.55"/>
<circle cx="208.3" cy="236.9" r="1.55"/>
<circle cx="208.7" cy="238.9" r="1.55"/>
<circle cx="208.7" cy="259.4" r="1.55"/>
<circle cx="208.3" cy="253.5" r="1.55"/>
<circle cx="208.5" cy="255.1" r="1.55"/>
<circle cx="208.6" cy="231.7" r="1.55"/>
<circle cx="208.6" cy="229.5" r="1.55"/>
<circle cx="208.6" cy="233.1" r="1.55"/>
<circle cx="208.6" cy="232.9" r="1.55"/>
<circle cx="208.6" cy="231.8" r="1.55"/>
<circle cx="208.6" cy="231.9" r="1.55"/>
<circle cx="208.6" cy="232.5" r="1.55"/>
<circle cx="208.6" cy="229.8" r="1.55"/>
</g>
<polygon points="51.5,333.6 208.7,308.6 208.7,312.0 51.5,336.9" fill="#999" fill-opacity="0.25"/>
<line x1="51.50" y1="335.30" x2="208.70" y2="310.30" stroke="#e9b510" stroke-width="2.3"/>
<rect x="244.20" y="209.20" width="188.90" height="166.61" fill="#60b066"/>
<rect x="244.20" y="209.20" width="8.06" height="6.91" fill="#60b066"/>
<rect x="251.76" y="209.20" width="8.06" height="6.91" fill="#60b066"/>
<rect x="259.31" y="209.20" width="8.06" height="6.91" fill="#4ba659"/>
<rect x="266.87" y="209.20" width="8.06" height="6.91" fill="#60b066"/>
<rect x="274.42" y="209.20" width="8.06" height="6.91" fill="#60b066"/>
<rect x="281.98" y="209.20" width="8.06" height="6.91" fill="#60b066"/>
<rect x="289.54" y="209.20" width="8.06" height="6.91" fill="#60b066"/>
<rect x="297.09" y="209.20" width="8.06" height="6.91" fill="#60b066"/>
<rect x="304.65" y="209.20" width="8.06" height="6.91" fill="#60b066"/>
<rect x="312.20" y="209.20" width="8.06" height="6.91" fill="#60b066"/>
<rect x="319.76" y="209.20" width="8.06" height="6.91" fill="#60b066"/>
<rect x="327.32" y="209.20" width="8.06" height="6.91" fill="#60b066"/>
<rect x="334.87" y="209.20" width="8.06" height="6.91" fill="#60b066"/>
<rect x="342.43" y="209.20" width="8.06" height="6.91" fill="#60b066"/>
<rect x="349.98" y="209.20" width="8.06" height="6.91" fill="#60b066"/>
<rect x="357.54" y="209.20" width="8.06" height="6.91" fill="#60b066"/>
<rect x="365.10" y="209.20" width="8.06" height="6.91" fill="#60b066"/>
<rect x="372.65" y="209.20" width="8.06" height="6.91" fill="#4ba659"/>
<rect x="380.21" y="209.20" width="8.06" height="6.91" fill="#7cbe7a"/>
<rect x="387.76" y="209.20" width="8.06" height="6.91" fill="#60b066"/>
<rect x="395.32" y="209.20" width="8.06" height="6.91" fill="#60b066"/>
<rect x="402.88" y="209.20" width="8.06" height="6.91" fill="#60b066"/>
<rect x="410.43" y="209.20" width="8.06" height="6.91" fill="#60b066"/>
<rect x="417.99" y="209.20" width="8.06" height="6.91" fill="#4ba659"/>
<rect x="425.54" y="209.20" width="7.56" height="6.91" fill="#379b4e"/>
<rect x="244.20" y="215.61" width="8.06" height="6.91" fill="#60b066"/>
<rect x="251.76" y="215.61" width="8.06" height="6.91" fill="#7cbe7a"/>
<rect x="259.31" y="215.61" width="8.06" height="6.91" fill="#60b066"/>
<rect x="266.87" y="215.61" width="8.06" height="6.91" fill="#4ba659"/>
<rect x="274.42" y="215.61" width="8.06" height="6.91" fill="#7cbe7a"/>
<rect x="281.98" y="215.61" width="8.06" height="6.91" fill="#4ba659"/>
<rect x="289.54" y="215.61" width="8.06" height="6.91" fill="#60b066"/>
<rect x="297.09" y="215.61" width="8.06" height="6.91" fill="#7cbe7a"/>
<rect x="304.65" y="215.61" width="8.06" height="6.91" fill="#4ba659"/>
<rect x="312.20" y="215.61" width="8.06" height="6.91" fill="#7cbe7a"/>
<rect x="319.76" y="215.61" width="8.06" height="6.91" fill="#60b066"/>
<rect x="327.32" y="215.61" width="8.06" height="6.91" fill="#60b066"/>
<rect x="334.87" y="215.61" width="8.06" height="6.91" fill="#7cbe7a"/>
<rect x="342.43" y="215.61" width="8.06" height="6.91" fill="#60b066"/>
<rect x="349.98" y="215.61" width="8.06" height="6.91" fill="#60b066"/>
<rect x="357.54" y="215.61" width="8.06" height="6.91" fill="#60b066"/>
<rect x="365.10" y="215.61" width="8.06" height="6.91" fill="#7cbe7a"/>
<rect x="372.65" y="215.61" width="8.06" height="6.91" fill="#60b066"/>
<rect x="380.21" y="215.61" width="8.06" height="6.91" fill="#7cbe7a"/>
<rect x="387.76" y="215.61" width="8.06" height="6.91" fill="#60b066"/>
<rect x="395.32" y="215.61" width="8.06" height="6.91" fill="#60b066"/>
<rect x="402.88" y="215.61" width="8.06" height="6.91" fill="#60b066"/>
<rect x="410.43" y="215.61" width="8.06" height="6.91" fill="#60b066"/>
<rect x="417.99" y="215.61" width="8.06" height="6.91" fill="#60b066"/>
<rect x="425.54" y="215.61" width="7.56" height="6.91" fill="#60b066"/>
<rect x="244.20" y="222.02" width="8.06" height="6.91" fill="#4ba659"/>
<rect x="251.76" y="222.02" width="8.06" height="6.91" fill="#4ba659"/>
<rect x="259.31" y="222.02" width="8.06" height="6.91" fill="#60b066"/>
<rect x="266.87" y="222.02" width="8.06" height="6.91" fill="#4ba659"/>
<rect x="274.42" y="222.02" width="8.06" height="6.91" fill="#7cbe7a"/>
<rect x="281.98" y="222.02" width="8.06" height="6.91" fill="#4ba659"/>
<rect x="289.54" y="222.02" width="8.06" height="6.91" fill="#7cbe7a"/>
<rect x="297.09" y="222.02" width="8.06" height="6.91" fill="#60b066"/>
<rect x="304.65" y="222.02" width="8.06" height="6.91" fill="#4ba659"/>
<rect x="312.20" y="222.02" width="8.06" height="6.91" fill="#7cbe7a"/>
<rect x="319.76" y="222.02" width="8.06" height="6.91" fill="#60b066"/>
<rect x="327.32" y="222.02" width="8.06" height="6.91" fill="#4ba659"/>
<rect x="334.87" y="222.02" width="8.06" height="6.91" fill="#60b066"/>
<rect x="342.43" y="222.02" width="8.06" height="6.91" fill="#4ba659"/>
<rect x="349.98" y="222.02" width="8.06" height="6.91" fill="#60b066"/>
<rect x="357.54" y="222.02" width="8.06" height="6.91" fill="#4ba659"/>
<rect x="365.10" y="222.02" width="8.06" height="6.91" fill="#60b066"/>
<rect x="372.65" y="222.02" width="8.06" height="6.91" fill="#60b066"/>
<rect x="380.21" y="222.02" width="8.06" height="6.91" fill="#4ba659"/>
<rect x="387.76" y="222.02" width="8.06" height="6.91" fill="#4ba659"/>
<rect x="395.32" y="222.02" width="8.06" height="6.91" fill="#60b066"/>
<rect x="402.88" y="222.02" width="8.06" height="6.91" fill="#4ba659"/>
<rect x="410.43" y="222.02" width="8.06" height="6.91" fill="#4ba659"/>
<rect x="417.99" y="222.02" width="8.06" height="6.91" fill="#60b066"/>
<rect x="425.54" y="222.02" width="7.56" height="6.91" fill="#4ba659"/>
<rect x="244.20" y="228.42" width="8.06" height="6.91" fill="#7cbe7a"/>
<rect x="251.76" y="228.42" width="8.06" height="6.91" fill="#4ba659"/>
<rect x="259.31" y="228.42" width="8.06" height="6.91" fill="#60b066"/>
<rect x="266.87" y="228.42" width="8.06" height="6.91" fill="#60b066"/>
<rect x="274.42" y="228.42" width="8.06" height="6.91" fill="#60b066"/>
<rect x="281.98" y="228.42" width="8.06" height="6.91" fill="#7cbe7a"/>
<rect x="289.54" y="228.42" width="8.06" height="6.91" fill="#60b066"/>
<rect x="297.09" y="228.42" width="8.06" height="6.91" fill="#60b066"/>
<rect x="304.65" y="228.42" width="8.06" height="6.91" fill="#60b066"/>
<rect x="312.20" y="228.42" width="8.06" height="6.91" fill="#60b066"/>
<rect x="319.76" y="228.42" width="8.06" height="6.91" fill="#60b066"/>
<rect x="327.32" y="228.42" width="8.06" height="6.91" fill="#7cbe7a"/>
<rect x="334.87" y="228.42" width="8.06" height="6.91" fill="#60b066"/>
<rect x="342.43" y="228.42" width="8.06" height="6.91" fill="#60b066"/>
<rect x="349.98" y="228.42" width="8.06" height="6.91" fill="#60b066"/>
<rect x="357.54" y="228.42" width="8.06" height="6.91" fill="#60b066"/>
<rect x="365.10" y="228.42" width="8.06" height="6.91" fill="#60b066"/>
<rect x="372.65" y="228.42" width="8.06" height="6.91" fill="#60b066"/>
<rect x="380.21" y="228.42" width="8.06" height="6.91" fill="#7cbe7a"/>
<rect x="387.76" y="228.42" width="8.06" height="6.91" fill="#60b066"/>
<rect x="395.32" y="228.42" width="8.06" height="6.91" fill="#60b066"/>
<rect x="402.88" y="228.42" width="8.06" height="6.91" fill="#4ba659"/>
<rect x="410.43" y="228.42" width="8.06" height="6.91" fill="#60b066"/>
<rect x="417.99" y="228.42" width="8.06" height="6.91" fill="#60b066"/>
<rect x="425.54" y="228.42" width="7.56" height="6.91" fill="#60b066"/>
<rect x="244.20" y="234.83" width="8.06" height="6.91" fill="#7cbe7a"/>
<rect x="251.76" y="234.83" width="8.06" height="6.91" fill="#60b066"/>
<rect x="259.31" y="234.83" width="8.06" height="6.91" fill="#60b066"/>
<rect x="266.87" y="234.83" width="8.06" height="6.91" fill="#4ba659"/>
<rect x="274.42" y="234.83" width="8.06" height="6.91" fill="#60b066"/>
<rect x="281.98" y="234.83" width="8.06" height="6.91" fill="#60b066"/>
<rect x="289.54" y="234.83" width="8.06" height="6.91" fill="#7cbe7a"/>
<rect x="297.09" y="234.83" width="8.06" height="6.91" fill="#60b066"/>
<rect x="304.65" y="234.83" width="8.06" height="6.91" fill="#60b066"/>
<rect x="312.20" y="234.83" width="8.06" height="6.91" fill="#60b066"/>
<rect x="319.76" y="234.83" width="8.06" height="6.91" fill="#60b066"/>
<rect x="327.32" y="234.83" width="8.06" height="6.91" fill="#60b066"/>
<rect x="334.87" y="234.83" width="8.06" height="6.91" fill="#60b066"/>
<rect x="342.43" y="234.83" width="8.06" height="6.91" fill="#60b066"/>
<rect x="349.98" y="234.83" width="8.06" height="6.91" fill="#60b066"/>
<rect x="357.54" y="234.83" width="8.06" height="6.91" fill="#60b066"/>
<rect x="365.10" y="234.83" width="8.06" height="6.91" fill="#60b066"/>
<rect x="372.65" y="234.83" width="8.06" height="6.91" fill="#4ba659"/>
<rect x="380.21" y="234.83" width="8.06" height="6.91" fill="#9dcf97"/>
<rect x="387.76" y="234.83" width="8.06" height="6.91" fill="#7cbe7a"/>
<rect x="395.32" y="234.83" width="8.06" height="6.91" fill="#60b066"/>
<rect x="402.88" y="234.83" width="8.06" height="6.91" fill="#60b066"/>
<rect x="410.43" y="234.83" width="8.06" height="6.91" fill="#60b066"/>
<rect x="417.99" y="234.83" width="8.06" height="6.91" fill="#60b066"/>
<rect x="425.54" y="234.83" width="7.56" height="6.91" fill="#60b066"/>
<rect x="244.20" y="241.24" width="8.06" height="6.91" fill="#60b066"/>
<rect x="251.76" y="241.24" width="8.06" height="6.91" fill="#4ba659"/>
<rect x="259.31" y="241.24" width="8.06" height="6.91" fill="#4ba659"/>
<rect x="266.87" y="241.24" width="8.06" height="6.91" fill="#4ba659"/>
<rect x="274.42" y="241.24" width="8.06" height="6.91" fill="#60b066"/>
<rect x="281.98" y="241.24" width="8.06" height="6.91" fill="#60b066"/>
<rect x="289.54" y="241.24" width="8.06" height="6.91" fill="#60b066"/>
<rect x="297.09" y="241.24" width="8.06" height="6.91" fill="#4ba659"/>
<rect x="304.65" y="241.24" width="8.06" height="6.91" fill="#4ba659"/>
<rect x="312.20" y="241.24" width="8.06" height="6.91" fill="#379b4e"/>
<rect x="319.76" y="241.24" width="8.06" height="6.91" fill="#4ba659"/>
<rect x="327.32" y="241.24" width="8.06" height="6.91" fill="#7cbe7a"/>
<rect x="334.87" y="241.24" width="8.06" height="6.91" fill="#4ba659"/>
<rect x="342.43" y="241.24" width="8.06" height="6.91" fill="#4ba659"/>
<rect x="349.98" y="241.24" width="8.06" height="6.91" fill="#4ba659"/>
<rect x="357.54" y="241.24" width="8.06" height="6.91" fill="#4ba659"/>
<rect x="365.10" y="241.24" width="8.06" height="6.91" fill="#4ba659"/>
<rect x="372.65" y="241.24" width="8.06" height="6.91" fill="#379b4e"/>
<rect x="380.21" y="241.24" width="8.06" height="6.91" fill="#4ba659"/>
<rect x="387.76" y="241.24" width="8.06" height="6.91" fill="#60b066"/>
<rect x="395.32" y="241.24" width="8.06" height="6.91" fill="#379b4e"/>
<rect x="402.88" y="241.24" width="8.06" height="6.91" fill="#4ba659"/>
<rect x="410.43" y="241.24" width="8.06" height="6.91" fill="#4ba659"/>
<rect x="417.99" y="241.24" width="8.06" height="6.91" fill="#4ba659"/>
<rect x="425.54" y="241.24" width="7.56" height="6.91" fill="#4ba659"/>
<rect x="244.20" y="247.65" width="8.06" height="6.91" fill="#7cbe7a"/>
<rect x="251.76" y="247.65" width="8.06" height="6.91" fill="#60b066"/>
<rect x="259.31" y="247.65" width="8.06" height="6.91" fill="#4ba659"/>
<rect x="266.87" y="247.65" width="8.06" height="6.91" fill="#379b4e"/>
<rect x="274.42" y="247.65" width="8.06" height="6.91" fill="#4ba659"/>
<rect x="281.98" y="247.65" width="8.06" height="6.91" fill="#4ba659"/>
<rect x="289.54" y="247.65" width="8.06" height="6.91" fill="#7cbe7a"/>
<rect x="297.09" y="247.65" width="8.06" height="6.91" fill="#7cbe7a"/>
<rect x="304.65" y="247.65" width="8.06" height="6.91" fill="#4ba659"/>
<rect x="312.20" y="247.65" width="8.06" height="6.91" fill="#4ba659"/>
<rect x="319.76" y="247.65" width="8.06" height="6.91" fill="#379b4e"/>
<rect x="327.32" y="247.65" width="8.06" height="6.91" fill="#7cbe7a"/>
<rect x="334.87" y="247.65" width="8.06" height="6.91" fill="#7cbe7a"/>
<rect x="342.43" y="247.65" width="8.06" height="6.91" fill="#4ba659"/>
<rect x="349.98" y="247.65" width="8.06" height="6.91" fill="#7cbe7a"/>
<rect x="357.54" y="247.65" width="8.06" height="6.91" fill="#7cbe7a"/>
<rect x="365.10" y="247.65" width="8.06" height="6.91" fill="#4ba659"/>
<rect x="372.65" y="247.65" width="8.06" height="6.91" fill="#379b4e"/>
<rect x="380.21" y="247.65" width="8.06" height="6.91" fill="#4ba659"/>
<rect x="387.76" y="247.65" width="8.06" height="6.91" fill="#4ba659"/>
<rect x="395.32" y="247.65" width="8.06" height="6.91" fill="#4ba659"/>
<rect x="402.88" y="247.65" width="8.06" height="6.91" fill="#379b4e"/>
<rect x="410.43" y="247.65" width="8.06" height="6.91" fill="#4ba659"/>
<rect x="417.99" y="247.65" width="8.06" height="6.91" fill="#7cbe7a"/>
<rect x="425.54" y="247.65" width="7.56" height="6.91" fill="#60b066"/>
<rect x="244.20" y="254.06" width="8.06" height="6.91" fill="#7cbe7a"/>
<rect x="251.76" y="254.06" width="8.06" height="6.91" fill="#7cbe7a"/>
<rect x="259.31" y="254.06" width="8.06" height="6.91" fill="#7cbe7a"/>
<rect x="266.87" y="254.06" width="8.06" height="6.91" fill="#60b066"/>
<rect x="274.42" y="254.06" width="8.06" height="6.91" fill="#7cbe7a"/>
<rect x="281.98" y="254.06" width="8.06" height="6.91" fill="#7cbe7a"/>
<rect x="289.54" y="254.06" width="8.06" height="6.91" fill="#7cbe7a"/>
<rect x="297.09" y="254.06" width="8.06" height="6.91" fill="#9dcf97"/>
<rect x="304.65" y="254.06" width="8.06" height="6.91" fill="#7cbe7a"/>
<rect x="312.20" y="254.06" width="8.06" height="6.91" fill="#60b066"/>
<rect x="319.76" y="254.06" width="8.06" height="6.91" fill="#60b066"/>
<rect x="327.32" y="254.06" width="8.06" height="6.91" fill="#60b066"/>
<rect x="334.87" y="254.06" width="8.06" height="6.91" fill="#60b066"/>
<rect x="342.43" y="254.06" width="8.06" height="6.91" fill="#60b066"/>
<rect x="349.98" y="254.06" width="8.06" height="6.91" fill="#60b066"/>
<rect x="357.54" y="254.06" width="8.06" height="6.91" fill="#60b066"/>
<rect x="365.10" y="254.06" width="8.06" height="6.91" fill="#60b066"/>
<rect x="372.65" y="254.06" width="8.06" height="6.91" fill="#60b066"/>
<rect x="380.21" y="254.06" width="8.06" height="6.91" fill="#9dcf97"/>
<rect x="387.76" y="254.06" width="8.06" height="6.91" fill="#7cbe7a"/>
<rect x="395.32" y="254.06" width="8.06" height="6.91" fill="#60b066"/>
<rect x="402.88" y="254.06" width="8.06" height="6.91" fill="#7cbe7a"/>
<rect x="410.43" y="254.06" width="8.06" height="6.91" fill="#7cbe7a"/>
<rect x="417.99" y="254.06" width="8.06" height="6.91" fill="#7cbe7a"/>
<rect x="425.54" y="254.06" width="7.56" height="6.91" fill="#60b066"/>
<rect x="244.20" y="260.46" width="8.06" height="6.91" fill="#7cbe7a"/>
<rect x="251.76" y="260.46" width="8.06" height="6.91" fill="#379b4e"/>
<rect x="259.31" y="260.46" width="8.06" height="6.91" fill="#379b4e"/>
<rect x="266.87" y="260.46" width="8.06" height="6.91" fill="#4ba659"/>
<rect x="274.42" y="260.46" width="8.06" height="6.91" fill="#9dcf97"/>
<rect x="281.98" y="260.46" width="8.06" height="6.91" fill="#7cbe7a"/>
<rect x="289.54" y="260.46" width="8.06" height="6.91" fill="#60b066"/>
<rect x="297.09" y="260.46" width="8.06" height="6.91" fill="#7cbe7a"/>
<rect x="304.65" y="260.46" width="8.06" height="6.91" fill="#4ba659"/>
<rect x="312.20" y="260.46" width="8.06" height="6.91" fill="#60b066"/>
<rect x="319.76" y="260.46" width="8.06" height="6.91" fill="#7cbe7a"/>
<rect x="327.32" y="260.46" width="8.06" height="6.91" fill="#7cbe7a"/>
<rect x="334.87" y="260.46" width="8.06" height="6.91" fill="#60b066"/>
<rect x="342.43" y="260.46" width="8.06" height="6.91" fill="#4ba659"/>
<rect x="349.98" y="260.46" width="8.06" height="6.91" fill="#60b066"/>
<rect x="357.54" y="260.46" width="8.06" height="6.91" fill="#7cbe7a"/>
<rect x="365.10" y="260.46" width="8.06" height="6.91" fill="#60b066"/>
<rect x="372.65" y="260.46" width="8.06" height="6.91" fill="#4ba659"/>
<rect x="380.21" y="260.46" width="8.06" height="6.91" fill="#60b066"/>
<rect x="387.76" y="260.46" width="8.06" height="6.91" fill="#60b066"/>
<rect x="395.32" y="260.46" width="8.06" height="6.91" fill="#7cbe7a"/>
<rect x="402.88" y="260.46" width="8.06" height="6.91" fill="#7cbe7a"/>
<rect x="410.43" y="260.46" width="8.06" height="6.91" fill="#7cbe7a"/>
<rect x="417.99" y="260.46" width="8.06" height="6.91" fill="#4ba659"/>
<rect x="425.54" y="260.46" width="7.56" height="6.91" fill="#60b066"/>
<rect x="244.20" y="266.87" width="8.06" height="6.91" fill="#7cbe7a"/>
<rect x="251.76" y="266.87" width="8.06" height="6.91" fill="#7cbe7a"/>
<rect x="259.31" y="266.87" width="8.06" height="6.91" fill="#7cbe7a"/>
<rect x="266.87" y="266.87" width="8.06" height="6.91" fill="#9dcf97"/>
<rect x="274.42" y="266.87" width="8.06" height="6.91" fill="#7cbe7a"/>
<rect x="281.98" y="266.87" width="8.06" height="6.91" fill="#7cbe7a"/>
<rect x="289.54" y="266.87" width="8.06" height="6.91" fill="#7cbe7a"/>
<rect x="297.09" y="266.87" width="8.06" height="6.91" fill="#7cbe7a"/>
<rect x="304.65" y="266.87" width="8.06" height="6.91" fill="#7cbe7a"/>
<rect x="312.20" y="266.87" width="8.06" height="6.91" fill="#7cbe7a"/>
<rect x="319.76" y="266.87" width="8.06" height="6.91" fill="#7cbe7a"/>
<rect x="327.32" y="266.87" width="8.06" height="6.91" fill="#60b066"/>
<rect x="334.87" y="266.87" width="8.06" height="6.91" fill="#7cbe7a"/>
<rect x="342.43" y="266.87" width="8.06" height="6.91" fill="#7cbe7a"/>
<rect x="349.98" y="266.87" width="8.06" height="6.91" fill="#7cbe7a"/>
<rect x="357.54" y="266.87" width="8.06" height="6.91" fill="#60b066"/>
<rect x="365.10" y="266.87" width="8.06" height="6.91" fill="#7cbe7a"/>
<rect x="372.65" y="266.87" width="8.06" height="6.91" fill="#7cbe7a"/>
<rect x="380.21" y="266.87" width="8.06" height="6.91" fill="#7cbe7a"/>
<rect x="387.76" y="266.87" width="8.06" height="6.91" fill="#7cbe7a"/>
<rect x="395.32" y="266.87" width="8.06" height="6.91" fill="#7cbe7a"/>
<rect x="402.88" y="266.87" width="8.06" height="6.91" fill="#7cbe7a"/>
<rect x="410.43" y="266.87" width="8.06" height="6.91" fill="#7cbe7a"/>
<rect x="417.99" y="266.87" width="8.06" height="6.91" fill="#7cbe7a"/>
<rect x="425.54" y="266.87" width="7.56" height="6.91" fill="#7cbe7a"/>
<rect x="244.20" y="273.28" width="8.06" height="6.91" fill="#7cbe7a"/>
<rect x="251.76" y="273.28" width="8.06" height="6.91" fill="#7cbe7a"/>
<rect x="259.31" y="273.28" width="8.06" height="6.91" fill="#9dcf97"/>
<rect x="266.87" y="273.28" width="8.06" height="6.91" fill="#9dcf97"/>
<rect x="274.42" y="273.28" width="8.06" height="6.91" fill="#7cbe7a"/>
<rect x="281.98" y="273.28" width="8.06" height="6.91" fill="#7cbe7a"/>
<rect x="289.54" y="273.28" width="8.06" height="6.91" fill="#7cbe7a"/>
<rect x="297.09" y="273.28" width="8.06" height="6.91" fill="#7cbe7a"/>
<rect x="304.65" y="273.28" width="8.06" height="6.91" fill="#9dcf97"/>
<rect x="312.20" y="273.28" width="8.06" height="6.91" fill="#9dcf97"/>
<rect x="319.76" y="273.28" width="8.06" height="6.91" fill="#60b066"/>
<rect x="327.32" y="273.28" width="8.06" height="6.91" fill="#60b066"/>
<rect x="334.87" y="273.28" width="8.06" height="6.91" fill="#60b066"/>
<rect x="342.43" y="273.28" width="8.06" height="6.91" fill="#7cbe7a"/>
<rect x="349.98" y="273.28" width="8.06" height="6.91" fill="#60b066"/>
<rect x="357.54" y="273.28" width="8.06" height="6.91" fill="#7cbe7a"/>
<rect x="365.10" y="273.28" width="8.06" height="6.91" fill="#60b066"/>
<rect x="372.65" y="273.28" width="8.06" height="6.91" fill="#7cbe7a"/>
<rect x="380.21" y="273.28" width="8.06" height="6.91" fill="#9dcf97"/>
<rect x="387.76" y="273.28" width="8.06" height="6.91" fill="#7cbe7a"/>
<rect x="395.32" y="273.28" width="8.06" height="6.91" fill="#60b066"/>
<rect x="402.88" y="273.28" width="8.06" height="6.91" fill="#7cbe7a"/>
<rect x="410.43" y="273.28" width="8.06" height="6.91" fill="#7cbe7a"/>
<rect x="417.99" y="273.28" width="8.06" height="6.91" fill="#9dcf97"/>
<rect x="425.54" y="273.28" width="7.56" height="6.91" fill="#9dcf97"/>
<rect x="244.20" y="279.69" width="8.06" height="6.91" fill="#7cbe7a"/>
<rect x="251.76" y="279.69" width="8.06" height="6.91" fill="#9dcf97"/>
<rect x="259.31" y="279.69" width="8.06" height="6.91" fill="#9dcf97"/>
<rect x="266.87" y="279.69" width="8.06" height="6.91" fill="#7cbe7a"/>
<rect x="274.42" y="279.69" width="8.06" height="6.91" fill="#7cbe7a"/>
<rect x="281.98" y="279.69" width="8.06" height="6.91" fill="#7cbe7a"/>
<rect x="289.54" y="279.69" width="8.06" height="6.91" fill="#9dcf97"/>
<rect x="297.09" y="279.69" width="8.06" height="6.91" fill="#9dcf97"/>
<rect x="304.65" y="279.69" width="8.06" height="6.91" fill="#7cbe7a"/>
<rect x="312.20" y="279.69" width="8.06" height="6.91" fill="#7cbe7a"/>
<rect x="319.76" y="279.69" width="8.06" height="6.91" fill="#7cbe7a"/>
<rect x="327.32" y="279.69" width="8.06" height="6.91" fill="#7cbe7a"/>
<rect x="334.87" y="279.69" width="8.06" height="6.91" fill="#7cbe7a"/>
<rect x="342.43" y="279.69" width="8.06" height="6.91" fill="#9dcf97"/>
<rect x="349.98" y="279.69" width="8.06" height="6.91" fill="#9dcf97"/>
<rect x="357.54" y="279.69" width="8.06" height="6.91" fill="#7cbe7a"/>
<rect x="365.10" y="279.69" width="8.06" height="6.91" fill="#7cbe7a"/>
<rect x="372.65" y="279.69" width="8.06" height="6.91" fill="#7cbe7a"/>
<rect x="380.21" y="279.69" width="8.06" height="6.91" fill="#9dcf97"/>
<rect x="387.76" y="279.69" width="8.06" height="6.91" fill="#bde0b6"/>
<rect x="395.32" y="279.69" width="8.06" height="6.91" fill="#9dcf97"/>
<rect x="402.88" y="279.69" width="8.06" height="6.91" fill="#7cbe7a"/>
<rect x="410.43" y="279.69" width="8.06" height="6.91" fill="#7cbe7a"/>
<rect x="417.99" y="279.69" width="8.06" height="6.91" fill="#7cbe7a"/>
<rect x="425.54" y="279.69" width="7.56" height="6.91" fill="#7cbe7a"/>
<rect x="244.20" y="286.10" width="8.06" height="6.91" fill="#60b066"/>
<rect x="251.76" y="286.10" width="8.06" height="6.91" fill="#9dcf97"/>
<rect x="259.31" y="286.10" width="8.06" height="6.91" fill="#7cbe7a"/>
<rect x="266.87" y="286.10" width="8.06" height="6.91" fill="#60b066"/>
<rect x="274.42" y="286.10" width="8.06" height="6.91" fill="#7cbe7a"/>
<rect x="281.98" y="286.10" width="8.06" height="6.91" fill="#60b066"/>
<rect x="289.54" y="286.10" width="8.06" height="6.91" fill="#60b066"/>
<rect x="297.09" y="286.10" width="8.06" height="6.91" fill="#60b066"/>
<rect x="304.65" y="286.10" width="8.06" height="6.91" fill="#eef6ec"/>
<rect x="312.20" y="286.10" width="8.06" height="6.91" fill="#60b066"/>
<rect x="319.76" y="286.10" width="8.06" height="6.91" fill="#60b066"/>
<rect x="327.32" y="286.10" width="8.06" height="6.91" fill="#60b066"/>
<rect x="334.87" y="286.10" width="8.06" height="6.91" fill="#60b066"/>
<rect x="342.43" y="286.10" width="8.06" height="6.91" fill="#7cbe7a"/>
<rect x="349.98" y="286.10" width="8.06" height="6.91" fill="#60b066"/>
<rect x="357.54" y="286.10" width="8.06" height="6.91" fill="#60b066"/>
<rect x="365.10" y="286.10" width="8.06" height="6.91" fill="#60b066"/>
<rect x="372.65" y="286.10" width="8.06" height="6.91" fill="#60b066"/>
<rect x="380.21" y="286.10" width="8.06" height="6.91" fill="#7cbe7a"/>
<rect x="387.76" y="286.10" width="8.06" height="6.91" fill="#60b066"/>
<rect x="395.32" y="286.10" width="8.06" height="6.91" fill="#60b066"/>
<rect x="402.88" y="286.10" width="8.06" height="6.91" fill="#7cbe7a"/>
<rect x="410.43" y="286.10" width="8.06" height="6.91" fill="#7cbe7a"/>
<rect x="417.99" y="286.10" width="8.06" height="6.91" fill="#7cbe7a"/>
<rect x="425.54" y="286.10" width="7.56" height="6.91" fill="#7cbe7a"/>
<rect x="244.20" y="292.50" width="8.06" height="6.91" fill="#7cbe7a"/>
<rect x="251.76" y="292.50" width="8.06" height="6.91" fill="#bde0b6"/>
<rect x="259.31" y="292.50" width="8.06" height="6.91" fill="#7cbe7a"/>
<rect x="266.87" y="292.50" width="8.06" height="6.91" fill="#9dcf97"/>
<rect x="274.42" y="292.50" width="8.06" height="6.91" fill="#9dcf97"/>
<rect x="281.98" y="292.50" width="8.06" height="6.91" fill="#7cbe7a"/>
<rect x="289.54" y="292.50" width="8.06" height="6.91" fill="#60b066"/>
<rect x="297.09" y="292.50" width="8.06" height="6.91" fill="#9dcf97"/>
<rect x="304.65" y="292.50" width="8.06" height="6.91" fill="#7cbe7a"/>
<rect x="312.20" y="292.50" width="8.06" height="6.91" fill="#7cbe7a"/>
<rect x="319.76" y="292.50" width="8.06" height="6.91" fill="#bde0b6"/>
<rect x="327.32" y="292.50" width="8.06" height="6.91" fill="#9dcf97"/>
<rect x="334.87" y="292.50" width="8.06" height="6.91" fill="#7cbe7a"/>
<rect x="342.43" y="292.50" width="8.06" height="6.91" fill="#60b066"/>
<rect x="349.98" y="292.50" width="8.06" height="6.91" fill="#7cbe7a"/>
<rect x="357.54" y="292.50" width="8.06" height="6.91" fill="#7cbe7a"/>
<rect x="365.10" y="292.50" width="8.06" height="6.91" fill="#9dcf97"/>
<rect x="372.65" y="292.50" width="8.06" height="6.91" fill="#bde0b6"/>
<rect x="380.21" y="292.50" width="8.06" height="6.91" fill="#7cbe7a"/>
<rect x="387.76" y="292.50" width="8.06" height="6.91" fill="#7cbe7a"/>
<rect x="395.32" y="292.50" width="8.06" height="6.91" fill="#7cbe7a"/>
<rect x="402.88" y="292.50" width="8.06" height="6.91" fill="#9dcf97"/>
<rect x="410.43" y="292.50" width="8.06" height="6.91" fill="#9dcf97"/>
<rect x="417.99" y="292.50" width="8.06" height="6.91" fill="#60b066"/>
<rect x="425.54" y="292.50" width="7.56" height="6.91" fill="#7cbe7a"/>
<rect x="244.20" y="298.91" width="8.06" height="6.91" fill="#7cbe7a"/>
<rect x="251.76" y="298.91" width="8.06" height="6.91" fill="#7cbe7a"/>
<rect x="259.31" y="298.91" width="8.06" height="6.91" fill="#7cbe7a"/>
<rect x="266.87" y="298.91" width="8.06" height="6.91" fill="#7cbe7a"/>
<rect x="274.42" y="298.91" width="8.06" height="6.91" fill="#7cbe7a"/>
<rect x="281.98" y="298.91" width="8.06" height="6.91" fill="#d8ecd3"/>
<rect x="289.54" y="298.91" width="8.06" height="6.91" fill="#7cbe7a"/>
<rect x="297.09" y="298.91" width="8.06" height="6.91" fill="#7cbe7a"/>
<rect x="304.65" y="298.91" width="8.06" height="6.91" fill="#7cbe7a"/>
<rect x="312.20" y="298.91" width="8.06" height="6.91" fill="#7cbe7a"/>
<rect x="319.76" y="298.91" width="8.06" height="6.91" fill="#d8ecd3"/>
<rect x="327.32" y="298.91" width="8.06" height="6.91" fill="#bde0b6"/>
<rect x="334.87" y="298.91" width="8.06" height="6.91" fill="#60b066"/>
<rect x="342.43" y="298.91" width="8.06" height="6.91" fill="#7cbe7a"/>
<rect x="349.98" y="298.91" width="8.06" height="6.91" fill="#d8ecd3"/>
<rect x="357.54" y="298.91" width="8.06" height="6.91" fill="#bde0b6"/>
<rect x="365.10" y="298.91" width="8.06" height="6.91" fill="#d8ecd3"/>
<rect x="372.65" y="298.91" width="8.06" height="6.91" fill="#7cbe7a"/>
<rect x="380.21" y="298.91" width="8.06" height="6.91" fill="#60b066"/>
<rect x="387.76" y="298.91" width="8.06" height="6.91" fill="#60b066"/>
<rect x="395.32" y="298.91" width="8.06" height="6.91" fill="#4ba659"/>
<rect x="402.88" y="298.91" width="8.06" height="6.91" fill="#60b066"/>
<rect x="410.43" y="298.91" width="8.06" height="6.91" fill="#60b066"/>
<rect x="417.99" y="298.91" width="8.06" height="6.91" fill="#9dcf97"/>
<rect x="425.54" y="298.91" width="7.56" height="6.91" fill="#60b066"/>
<rect x="244.20" y="305.32" width="8.06" height="6.91" fill="#379b4e"/>
<rect x="251.76" y="305.32" width="8.06" height="6.91" fill="#379b4e"/>
<rect x="259.31" y="305.32" width="8.06" height="6.91" fill="#379b4e"/>
<rect x="266.87" y="305.32" width="8.06" height="6.91" fill="#379b4e"/>
<rect x="274.42" y="305.32" width="8.06" height="6.91" fill="#379b4e"/>
<rect x="281.98" y="305.32" width="8.06" height="6.91" fill="#379b4e"/>
<rect x="289.54" y="305.32" width="8.06" height="6.91" fill="#4ba659"/>
<rect x="297.09" y="305.32" width="8.06" height="6.91" fill="#4ba659"/>
<rect x="304.65" y="305.32" width="8.06" height="6.91" fill="#379b4e"/>
<rect x="312.20" y="305.32" width="8.06" height="6.91" fill="#4ba659"/>
<rect x="319.76" y="305.32" width="8.06" height="6.91" fill="#379b4e"/>
<rect x="327.32" y="305.32" width="8.06" height="6.91" fill="#379b4e"/>
<rect x="334.87" y="305.32" width="8.06" height="6.91" fill="#278e44"/>
<rect x="342.43" y="305.32" width="8.06" height="6.91" fill="#379b4e"/>
<rect x="349.98" y="305.32" width="8.06" height="6.91" fill="#379b4e"/>
<rect x="357.54" y="305.32" width="8.06" height="6.91" fill="#379b4e"/>
<rect x="365.10" y="305.32" width="8.06" height="6.91" fill="#4ba659"/>
<rect x="372.65" y="305.32" width="8.06" height="6.91" fill="#379b4e"/>
<rect x="380.21" y="305.32" width="8.06" height="6.91" fill="#379b4e"/>
<rect x="387.76" y="305.32" width="8.06" height="6.91" fill="#379b4e"/>
<rect x="395.32" y="305.32" width="8.06" height="6.91" fill="#379b4e"/>
<rect x="402.88" y="305.32" width="8.06" height="6.91" fill="#379b4e"/>
<rect x="410.43" y="305.32" width="8.06" height="6.91" fill="#379b4e"/>
<rect x="417.99" y="305.32" width="8.06" height="6.91" fill="#379b4e"/>
<rect x="425.54" y="305.32" width="7.56" height="6.91" fill="#379b4e"/>
<rect x="244.20" y="311.73" width="8.06" height="6.91" fill="#4ba659"/>
<rect x="251.76" y="311.73" width="8.06" height="6.91" fill="#379b4e"/>
<rect x="259.31" y="311.73" width="8.06" height="6.91" fill="#4ba659"/>
<rect x="266.87" y="311.73" width="8.06" height="6.91" fill="#4ba659"/>
<rect x="274.42" y="311.73" width="8.06" height="6.91" fill="#379b4e"/>
<rect x="281.98" y="311.73" width="8.06" height="6.91" fill="#4ba659"/>
<rect x="289.54" y="311.73" width="8.06" height="6.91" fill="#4ba659"/>
<rect x="297.09" y="311.73" width="8.06" height="6.91" fill="#4ba659"/>
<rect x="304.65" y="311.73" width="8.06" height="6.91" fill="#379b4e"/>
<rect x="312.20" y="311.73" width="8.06" height="6.91" fill="#4ba659"/>
<rect x="319.76" y="311.73" width="8.06" height="6.91" fill="#379b4e"/>
<rect x="327.32" y="311.73" width="8.06" height="6.91" fill="#379b4e"/>
<rect x="334.87" y="311.73" width="8.06" height="6.91" fill="#379b4e"/>
<rect x="342.43" y="311.73" width="8.06" height="6.91" fill="#379b4e"/>
<rect x="349.98" y="311.73" width="8.06" height="6.91" fill="#379b4e"/>
<rect x="357.54" y="311.73" width="8.06" height="6.91" fill="#379b4e"/>
<rect x="365.10" y="311.73" width="8.06" height="6.91" fill="#60b066"/>
<rect x="372.65" y="311.73" width="8.06" height="6.91" fill="#379b4e"/>
<rect x="380.21" y="311.73" width="8.06" height="6.91" fill="#278e44"/>
<rect x="387.76" y="311.73" width="8.06" height="6.91" fill="#379b4e"/>
<rect x="395.32" y="311.73" width="8.06" height="6.91" fill="#278e44"/>
<rect x="402.88" y="311.73" width="8.06" height="6.91" fill="#379b4e"/>
<rect x="410.43" y="311.73" width="8.06" height="6.91" fill="#379b4e"/>
<rect x="417.99" y="311.73" width="8.06" height="6.91" fill="#379b4e"/>
<rect x="425.54" y="311.73" width="7.56" height="6.91" fill="#379b4e"/>
<rect x="244.20" y="318.14" width="8.06" height="6.91" fill="#4ba659"/>
<rect x="251.76" y="318.14" width="8.06" height="6.91" fill="#4ba659"/>
<rect x="259.31" y="318.14" width="8.06" height="6.91" fill="#60b066"/>
<rect x="266.87" y="318.14" width="8.06" height="6.91" fill="#379b4e"/>
<rect x="274.42" y="318.14" width="8.06" height="6.91" fill="#379b4e"/>
<rect x="281.98" y="318.14" width="8.06" height="6.91" fill="#379b4e"/>
<rect x="289.54" y="318.14" width="8.06" height="6.91" fill="#4ba659"/>
<rect x="297.09" y="318.14" width="8.06" height="6.91" fill="#4ba659"/>
<rect x="304.65" y="318.14" width="8.06" height="6.91" fill="#4ba659"/>
<rect x="312.20" y="318.14" width="8.06" height="6.91" fill="#4ba659"/>
<rect x="319.76" y="318.14" width="8.06" height="6.91" fill="#379b4e"/>
<rect x="327.32" y="318.14" width="8.06" height="6.91" fill="#379b4e"/>
<rect x="334.87" y="318.14" width="8.06" height="6.91" fill="#379b4e"/>
<rect x="342.43" y="318.14" width="8.06" height="6.91" fill="#379b4e"/>
<rect x="349.98" y="318.14" width="8.06" height="6.91" fill="#379b4e"/>
<rect x="357.54" y="318.14" width="8.06" height="6.91" fill="#4ba659"/>
<rect x="365.10" y="318.14" width="8.06" height="6.91" fill="#4ba659"/>
<rect x="372.65" y="318.14" width="8.06" height="6.91" fill="#4ba659"/>
<rect x="380.21" y="318.14" width="8.06" height="6.91" fill="#4ba659"/>
<rect x="387.76" y="318.14" width="8.06" height="6.91" fill="#379b4e"/>
<rect x="395.32" y="318.14" width="8.06" height="6.91" fill="#379b4e"/>
<rect x="402.88" y="318.14" width="8.06" height="6.91" fill="#379b4e"/>
<rect x="410.43" y="318.14" width="8.06" height="6.91" fill="#379b4e"/>
<rect x="417.99" y="318.14" width="8.06" height="6.91" fill="#4ba659"/>
<rect x="425.54" y="318.14" width="7.56" height="6.91" fill="#4ba659"/>
<rect x="244.20" y="324.54" width="8.06" height="6.91" fill="#4ba659"/>
<rect x="251.76" y="324.54" width="8.06" height="6.91" fill="#4ba659"/>
<rect x="259.31" y="324.54" width="8.06" height="6.91" fill="#379b4e"/>
<rect x="266.87" y="324.54" width="8.06" height="6.91" fill="#4ba659"/>
<rect x="274.42" y="324.54" width="8.06" height="6.91" fill="#60b066"/>
<rect x="281.98" y="324.54" width="8.06" height="6.91" fill="#60b066"/>
<rect x="289.54" y="324.54" width="8.06" height="6.91" fill="#60b066"/>
<rect x="297.09" y="324.54" width="8.06" height="6.91" fill="#7cbe7a"/>
<rect x="304.65" y="324.54" width="8.06" height="6.91" fill="#379b4e"/>
<rect x="312.20" y="324.54" width="8.06" height="6.91" fill="#4ba659"/>
<rect x="319.76" y="324.54" width="8.06" height="6.91" fill="#60b066"/>
<rect x="327.32" y="324.54" width="8.06" height="6.91" fill="#60b066"/>
<rect x="334.87" y="324.54" width="8.06" height="6.91" fill="#4ba659"/>
<rect x="342.43" y="324.54" width="8.06" height="6.91" fill="#4ba659"/>
<rect x="349.98" y="324.54" width="8.06" height="6.91" fill="#4ba659"/>
<rect x="357.54" y="324.54" width="8.06" height="6.91" fill="#4ba659"/>
<rect x="365.10" y="324.54" width="8.06" height="6.91" fill="#4ba659"/>
<rect x="372.65" y="324.54" width="8.06" height="6.91" fill="#4ba659"/>
<rect x="380.21" y="324.54" width="8.06" height="6.91" fill="#60b066"/>
<rect x="387.76" y="324.54" width="8.06" height="6.91" fill="#60b066"/>
<rect x="395.32" y="324.54" width="8.06" height="6.91" fill="#4ba659"/>
<rect x="402.88" y="324.54" width="8.06" height="6.91" fill="#379b4e"/>
<rect x="410.43" y="324.54" width="8.06" height="6.91" fill="#60b066"/>
<rect x="417.99" y="324.54" width="8.06" height="6.91" fill="#4ba659"/>
<rect x="425.54" y="324.54" width="7.56" height="6.91" fill="#379b4e"/>
<rect x="244.20" y="330.95" width="8.06" height="6.91" fill="#4ba659"/>
<rect x="251.76" y="330.95" width="8.06" height="6.91" fill="#4ba659"/>
<rect x="259.31" y="330.95" width="8.06" height="6.91" fill="#4ba659"/>
<rect x="266.87" y="330.95" width="8.06" height="6.91" fill="#4ba659"/>
<rect x="274.42" y="330.95" width="8.06" height="6.91" fill="#60b066"/>
<rect x="281.98" y="330.95" width="8.06" height="6.91" fill="#60b066"/>
<rect x="289.54" y="330.95" width="8.06" height="6.91" fill="#60b066"/>
<rect x="297.09" y="330.95" width="8.06" height="6.91" fill="#60b066"/>
<rect x="304.65" y="330.95" width="8.06" height="6.91" fill="#60b066"/>
<rect x="312.20" y="330.95" width="8.06" height="6.91" fill="#4ba659"/>
<rect x="319.76" y="330.95" width="8.06" height="6.91" fill="#4ba659"/>
<rect x="327.32" y="330.95" width="8.06" height="6.91" fill="#4ba659"/>
<rect x="334.87" y="330.95" width="8.06" height="6.91" fill="#60b066"/>
<rect x="342.43" y="330.95" width="8.06" height="6.91" fill="#4ba659"/>
<rect x="349.98" y="330.95" width="8.06" height="6.91" fill="#4ba659"/>
<rect x="357.54" y="330.95" width="8.06" height="6.91" fill="#4ba659"/>
<rect x="365.10" y="330.95" width="8.06" height="6.91" fill="#60b066"/>
<rect x="372.65" y="330.95" width="8.06" height="6.91" fill="#4ba659"/>
<rect x="380.21" y="330.95" width="8.06" height="6.91" fill="#4ba659"/>
<rect x="387.76" y="330.95" width="8.06" height="6.91" fill="#4ba659"/>
<rect x="395.32" y="330.95" width="8.06" height="6.91" fill="#4ba659"/>
<rect x="402.88" y="330.95" width="8.06" height="6.91" fill="#4ba659"/>
<rect x="410.43" y="330.95" width="8.06" height="6.91" fill="#4ba659"/>
<rect x="417.99" y="330.95" width="8.06" height="6.91" fill="#4ba659"/>
<rect x="425.54" y="330.95" width="7.56" height="6.91" fill="#4ba659"/>
<rect x="244.20" y="337.36" width="8.06" height="6.91" fill="#379b4e"/>
<rect x="251.76" y="337.36" width="8.06" height="6.91" fill="#379b4e"/>
<rect x="259.31" y="337.36" width="8.06" height="6.91" fill="#379b4e"/>
<rect x="266.87" y="337.36" width="8.06" height="6.91" fill="#379b4e"/>
<rect x="274.42" y="337.36" width="8.06" height="6.91" fill="#4ba659"/>
<rect x="281.98" y="337.36" width="8.06" height="6.91" fill="#4ba659"/>
<rect x="289.54" y="337.36" width="8.06" height="6.91" fill="#4ba659"/>
<rect x="297.09" y="337.36" width="8.06" height="6.91" fill="#4ba659"/>
<rect x="304.65" y="337.36" width="8.06" height="6.91" fill="#4ba659"/>
<rect x="312.20" y="337.36" width="8.06" height="6.91" fill="#379b4e"/>
<rect x="319.76" y="337.36" width="8.06" height="6.91" fill="#379b4e"/>
<rect x="327.32" y="337.36" width="8.06" height="6.91" fill="#379b4e"/>
<rect x="334.87" y="337.36" width="8.06" height="6.91" fill="#379b4e"/>
<rect x="342.43" y="337.36" width="8.06" height="6.91" fill="#379b4e"/>
<rect x="349.98" y="337.36" width="8.06" height="6.91" fill="#379b4e"/>
<rect x="357.54" y="337.36" width="8.06" height="6.91" fill="#379b4e"/>
<rect x="365.10" y="337.36" width="8.06" height="6.91" fill="#379b4e"/>
<rect x="372.65" y="337.36" width="8.06" height="6.91" fill="#379b4e"/>
<rect x="380.21" y="337.36" width="8.06" height="6.91" fill="#4ba659"/>
<rect x="387.76" y="337.36" width="8.06" height="6.91" fill="#379b4e"/>
<rect x="395.32" y="337.36" width="8.06" height="6.91" fill="#379b4e"/>
<rect x="402.88" y="337.36" width="8.06" height="6.91" fill="#379b4e"/>
<rect x="410.43" y="337.36" width="8.06" height="6.91" fill="#379b4e"/>
<rect x="417.99" y="337.36" width="8.06" height="6.91" fill="#379b4e"/>
<rect x="425.54" y="337.36" width="7.56" height="6.91" fill="#278e44"/>
<rect x="244.20" y="343.77" width="8.06" height="6.91" fill="#4ba659"/>
<rect x="251.76" y="343.77" width="8.06" height="6.91" fill="#379b4e"/>
<rect x="259.31" y="343.77" width="8.06" height="6.91" fill="#379b4e"/>
<rect x="266.87" y="343.77" width="8.06" height="6.91" fill="#379b4e"/>
<rect x="274.42" y="343.77" width="8.06" height="6.91" fill="#379b4e"/>
<rect x="281.98" y="343.77" width="8.06" height="6.91" fill="#278e44"/>
<rect x="289.54" y="343.77" width="8.06" height="6.91" fill="#4ba659"/>
<rect x="297.09" y="343.77" width="8.06" height="6.91" fill="#4ba659"/>
<rect x="304.65" y="343.77" width="8.06" height="6.91" fill="#4ba659"/>
<rect x="312.20" y="343.77" width="8.06" height="6.91" fill="#379b4e"/>
<rect x="319.76" y="343.77" width="8.06" height="6.91" fill="#379b4e"/>
<rect x="327.32" y="343.77" width="8.06" height="6.91" fill="#379b4e"/>
<rect x="334.87" y="343.77" width="8.06" height="6.91" fill="#379b4e"/>
<rect x="342.43" y="343.77" width="8.06" height="6.91" fill="#4ba659"/>
<rect x="349.98" y="343.77" width="8.06" height="6.91" fill="#4ba659"/>
<rect x="357.54" y="343.77" width="8.06" height="6.91" fill="#4ba659"/>
<rect x="365.10" y="343.77" width="8.06" height="6.91" fill="#379b4e"/>
<rect x="372.65" y="343.77" width="8.06" height="6.91" fill="#4ba659"/>
<rect x="380.21" y="343.77" width="8.06" height="6.91" fill="#4ba659"/>
<rect x="387.76" y="343.77" width="8.06" height="6.91" fill="#379b4e"/>
<rect x="395.32" y="343.77" width="8.06" height="6.91" fill="#379b4e"/>
<rect x="402.88" y="343.77" width="8.06" height="6.91" fill="#379b4e"/>
<rect x="410.43" y="343.77" width="8.06" height="6.91" fill="#379b4e"/>
<rect x="417.99" y="343.77" width="8.06" height="6.91" fill="#379b4e"/>
<rect x="425.54" y="343.77" width="7.56" height="6.91" fill="#379b4e"/>
<rect x="244.20" y="350.18" width="8.06" height="6.91" fill="#278e44"/>
<rect x="251.76" y="350.18" width="8.06" height="6.91" fill="#1f833c"/>
<rect x="259.31" y="350.18" width="8.06" height="6.91" fill="#1f833c"/>
<rect x="266.87" y="350.18" width="8.06" height="6.91" fill="#1f833c"/>
<rect x="274.42" y="350.18" width="8.06" height="6.91" fill="#1f833c"/>
<rect x="281.98" y="350.18" width="8.06" height="6.91" fill="#1f833c"/>
<rect x="289.54" y="350.18" width="8.06" height="6.91" fill="#278e44"/>
<rect x="297.09" y="350.18" width="8.06" height="6.91" fill="#278e44"/>
<rect x="304.65" y="350.18" width="8.06" height="6.91" fill="#1f833c"/>
<rect x="312.20" y="350.18" width="8.06" height="6.91" fill="#1f833c"/>
<rect x="319.76" y="350.18" width="8.06" height="6.91" fill="#278e44"/>
<rect x="327.32" y="350.18" width="8.06" height="6.91" fill="#379b4e"/>
<rect x="334.87" y="350.18" width="8.06" height="6.91" fill="#278e44"/>
<rect x="342.43" y="350.18" width="8.06" height="6.91" fill="#278e44"/>
<rect x="349.98" y="350.18" width="8.06" height="6.91" fill="#278e44"/>
<rect x="357.54" y="350.18" width="8.06" height="6.91" fill="#278e44"/>
<rect x="365.10" y="350.18" width="8.06" height="6.91" fill="#278e44"/>
<rect x="372.65" y="350.18" width="8.06" height="6.91" fill="#1f833c"/>
<rect x="380.21" y="350.18" width="8.06" height="6.91" fill="#278e44"/>
<rect x="387.76" y="350.18" width="8.06" height="6.91" fill="#278e44"/>
<rect x="395.32" y="350.18" width="8.06" height="6.91" fill="#278e44"/>
<rect x="402.88" y="350.18" width="8.06" height="6.91" fill="#1f833c"/>
<rect x="410.43" y="350.18" width="8.06" height="6.91" fill="#278e44"/>
<rect x="417.99" y="350.18" width="8.06" height="6.91" fill="#278e44"/>
<rect x="425.54" y="350.18" width="7.56" height="6.91" fill="#278e44"/>
<rect x="244.20" y="356.58" width="8.06" height="6.91" fill="#d8ecd3"/>
<rect x="251.76" y="356.58" width="8.06" height="6.91" fill="#9dcf97"/>
<rect x="259.31" y="356.58" width="8.06" height="6.91" fill="#9dcf97"/>
<rect x="266.87" y="356.58" width="8.06" height="6.91" fill="#9dcf97"/>
<rect x="274.42" y="356.58" width="8.06" height="6.91" fill="#9dcf97"/>
<rect x="281.98" y="356.58" width="8.06" height="6.91" fill="#60b066"/>
<rect x="289.54" y="356.58" width="8.06" height="6.91" fill="#278e44"/>
<rect x="297.09" y="356.58" width="8.06" height="6.91" fill="#9dcf97"/>
<rect x="304.65" y="356.58" width="8.06" height="6.91" fill="#9dcf97"/>
<rect x="312.20" y="356.58" width="8.06" height="6.91" fill="#9dcf97"/>
<rect x="319.76" y="356.58" width="8.06" height="6.91" fill="#9dcf97"/>
<rect x="327.32" y="356.58" width="8.06" height="6.91" fill="#7cbe7a"/>
<rect x="334.87" y="356.58" width="8.06" height="6.91" fill="#bde0b6"/>
<rect x="342.43" y="356.58" width="8.06" height="6.91" fill="#278e44"/>
<rect x="349.98" y="356.58" width="8.06" height="6.91" fill="#bde0b6"/>
<rect x="357.54" y="356.58" width="8.06" height="6.91" fill="#278e44"/>
<rect x="365.10" y="356.58" width="8.06" height="6.91" fill="#9dcf97"/>
<rect x="372.65" y="356.58" width="8.06" height="6.91" fill="#9dcf97"/>
<rect x="380.21" y="356.58" width="8.06" height="6.91" fill="#7cbe7a"/>
<rect x="387.76" y="356.58" width="8.06" height="6.91" fill="#278e44"/>
<rect x="395.32" y="356.58" width="8.06" height="6.91" fill="#bde0b6"/>
<rect x="402.88" y="356.58" width="8.06" height="6.91" fill="#7cbe7a"/>
<rect x="410.43" y="356.58" width="8.06" height="6.91" fill="#7cbe7a"/>
<rect x="417.99" y="356.58" width="8.06" height="6.91" fill="#9dcf97"/>
<rect x="425.54" y="356.58" width="7.56" height="6.91" fill="#9dcf97"/>
<rect x="244.20" y="362.99" width="8.06" height="6.91" fill="#9dcf97"/>
<rect x="251.76" y="362.99" width="8.06" height="6.91" fill="#bde0b6"/>
<rect x="259.31" y="362.99" width="8.06" height="6.91" fill="#bde0b6"/>
<rect x="266.87" y="362.99" width="8.06" height="6.91" fill="#eef6ec"/>
<rect x="274.42" y="362.99" width="8.06" height="6.91" fill="#bde0b6"/>
<rect x="281.98" y="362.99" width="8.06" height="6.91" fill="#bde0b6"/>
<rect x="289.54" y="362.99" width="8.06" height="6.91" fill="#9dcf97"/>
<rect x="297.09" y="362.99" width="8.06" height="6.91" fill="#eef6ec"/>
<rect x="304.65" y="362.99" width="8.06" height="6.91" fill="#d8ecd3"/>
<rect x="312.20" y="362.99" width="8.06" height="6.91" fill="#d8ecd3"/>
<rect x="319.76" y="362.99" width="8.06" height="6.91" fill="#d8ecd3"/>
<rect x="327.32" y="362.99" width="8.06" height="6.91" fill="#9dcf97"/>
<rect x="334.87" y="362.99" width="8.06" height="6.91" fill="#d8ecd3"/>
<rect x="342.43" y="362.99" width="8.06" height="6.91" fill="#60b066"/>
<rect x="349.98" y="362.99" width="8.06" height="6.91" fill="#eef6ec"/>
<rect x="357.54" y="362.99" width="8.06" height="6.91" fill="#9dcf97"/>
<rect x="365.10" y="362.99" width="8.06" height="6.91" fill="#9dcf97"/>
<rect x="372.65" y="362.99" width="8.06" height="6.91" fill="#d8ecd3"/>
<rect x="380.21" y="362.99" width="8.06" height="6.91" fill="#9dcf97"/>
<rect x="387.76" y="362.99" width="8.06" height="6.91" fill="#9dcf97"/>
<rect x="395.32" y="362.99" width="8.06" height="6.91" fill="#7cbe7a"/>
<rect x="402.88" y="362.99" width="8.06" height="6.91" fill="#bde0b6"/>
<rect x="410.43" y="362.99" width="8.06" height="6.91" fill="#bde0b6"/>
<rect x="417.99" y="362.99" width="8.06" height="6.91" fill="#bde0b6"/>
<rect x="425.54" y="362.99" width="7.56" height="6.91" fill="#d8ecd3"/>
<rect x="244.20" y="369.40" width="8.06" height="6.41" fill="#bde0b6"/>
<rect x="251.76" y="369.40" width="8.06" height="6.41" fill="#d8ecd3"/>
<rect x="259.31" y="369.40" width="8.06" height="6.41" fill="#d8ecd3"/>
<rect x="266.87" y="369.40" width="8.06" height="6.41" fill="#d8ecd3"/>
<rect x="274.42" y="369.40" width="8.06" height="6.41" fill="#d8ecd3"/>
<rect x="281.98" y="369.40" width="8.06" height="6.41" fill="#d8ecd3"/>
<rect x="289.54" y="369.40" width="8.06" height="6.41" fill="#d8ecd3"/>
<rect x="297.09" y="369.40" width="8.06" height="6.41" fill="#bde0b6"/>
<rect x="304.65" y="369.40" width="8.06" height="6.41" fill="#d8ecd3"/>
<rect x="312.20" y="369.40" width="8.06" height="6.41" fill="#d8ecd3"/>
<rect x="319.76" y="369.40" width="8.06" height="6.41" fill="#d8ecd3"/>
<rect x="327.32" y="369.40" width="8.06" height="6.41" fill="#bde0b6"/>
<rect x="334.87" y="369.40" width="8.06" height="6.41" fill="#d8ecd3"/>
<rect x="342.43" y="369.40" width="8.06" height="6.41" fill="#bde0b6"/>
<rect x="349.98" y="369.40" width="8.06" height="6.41" fill="#eef6ec"/>
<rect x="357.54" y="369.40" width="8.06" height="6.41" fill="#9dcf97"/>
<rect x="365.10" y="369.40" width="8.06" height="6.41" fill="#d8ecd3"/>
<rect x="372.65" y="369.40" width="8.06" height="6.41" fill="#bde0b6"/>
<rect x="380.21" y="369.40" width="8.06" height="6.41" fill="#9dcf97"/>
<rect x="387.76" y="369.40" width="8.06" height="6.41" fill="#bde0b6"/>
<rect x="395.32" y="369.40" width="8.06" height="6.41" fill="#bde0b6"/>
<rect x="402.88" y="369.40" width="8.06" height="6.41" fill="#bde0b6"/>
<rect x="410.43" y="369.40" width="8.06" height="6.41" fill="#9dcf97"/>
<rect x="417.99" y="369.40" width="8.06" height="6.41" fill="#d8ecd3"/>
<rect x="425.54" y="369.40" width="7.56" height="6.41" fill="#7cbe7a"/>
<text x="436.40" y="214.35" font-size="5.5" text-anchor="start" fill="#111" stroke="#111" stroke-width="0.12">ARID2</text>
<text x="436.40" y="220.76" font-size="5.5" text-anchor="start" fill="#111" stroke="#111" stroke-width="0.12">IKZF3</text>
<text x="436.40" y="227.17" font-size="5.5" text-anchor="start" fill="#111" stroke="#111" stroke-width="0.12">CDKN1B</text>
<text x="436.40" y="233.58" font-size="5.5" text-anchor="start" fill="#111" stroke="#111" stroke-width="0.12">NRAS</text>
<text x="436.40" y="239.99" font-size="5.5" text-anchor="start" fill="#111" stroke="#111" stroke-width="0.12">DIS3</text>
<text x="436.40" y="246.39" font-size="5.5" text-anchor="start" fill="#111" stroke="#111" stroke-width="0.12">RPS3A</text>
<text x="436.40" y="252.80" font-size="5.5" text-anchor="start" fill="#111" stroke="#111" stroke-width="0.12">EGR1</text>
<text x="436.40" y="259.21" font-size="5.5" text-anchor="start" fill="#111" stroke="#111" stroke-width="0.12">KRAS</text>
<text x="436.40" y="265.62" font-size="5.5" text-anchor="start" fill="#111" stroke="#111" stroke-width="0.12">PIM1</text>
<text x="436.40" y="272.03" font-size="5.5" text-anchor="start" fill="#111" stroke="#111" stroke-width="0.12">DNMT3A</text>
<text x="436.40" y="278.43" font-size="5.5" text-anchor="start" fill="#111" stroke="#111" stroke-width="0.12">IDH1</text>
<text x="436.40" y="284.84" font-size="5.5" text-anchor="start" fill="#111" stroke="#111" stroke-width="0.12">TGDS</text>
<text x="436.40" y="291.25" font-size="5.5" text-anchor="start" fill="#111" stroke="#111" stroke-width="0.12">TP53</text>
<text x="436.40" y="297.66" font-size="5.5" text-anchor="start" fill="#111" stroke="#111" stroke-width="0.12">IGF1R</text>
<text x="436.40" y="304.07" font-size="5.5" text-anchor="start" fill="#111" stroke="#111" stroke-width="0.12">IGLL5</text>
<text x="436.40" y="310.47" font-size="5.5" text-anchor="start" fill="#111" stroke="#111" stroke-width="0.12">IRF4</text>
<text x="436.40" y="316.88" font-size="5.5" text-anchor="start" fill="#111" stroke="#111" stroke-width="0.12">HIST1H1E</text>
<text x="436.40" y="323.29" font-size="5.5" text-anchor="start" fill="#111" stroke="#111" stroke-width="0.12">TENT5C</text>
<text x="436.40" y="329.70" font-size="5.5" text-anchor="start" fill="#111" stroke="#111" stroke-width="0.12">CYLD</text>
<text x="436.40" y="336.11" font-size="5.5" text-anchor="start" fill="#111" stroke="#111" stroke-width="0.12">KDM6A</text>
<text x="436.40" y="342.51" font-size="5.5" text-anchor="start" fill="#111" stroke="#111" stroke-width="0.12">SF3B1</text>
<text x="436.40" y="348.92" font-size="5.5" text-anchor="start" fill="#111" stroke="#111" stroke-width="0.12">ATM</text>
<text x="436.40" y="355.33" font-size="5.5" text-anchor="start" fill="#111" stroke="#111" stroke-width="0.12">ACTG1</text>
<text x="436.40" y="361.74" font-size="5.5" text-anchor="start" fill="#111" stroke="#111" stroke-width="0.12">FGFR3</text>
<text x="436.40" y="368.15" font-size="5.5" text-anchor="start" fill="#111" stroke="#111" stroke-width="0.12">SNX7</text>
<text x="436.40" y="374.55" font-size="5.5" text-anchor="start" fill="#111" stroke="#111" stroke-width="0.12">LTB</text>
<text x="249.88" y="379.00" font-size="5.5" text-anchor="end" fill="#1a1a1a" font-weight="bold" textLength="13.4" lengthAdjust="spacingAndGlyphs" transform="rotate(-90 249.88 379.00)" stroke="#1a1a1a" stroke-width="0.12">M690</text>
<text x="257.43" y="379.00" font-size="5.5" text-anchor="end" fill="#1a1a1a" font-weight="bold" textLength="13.4" lengthAdjust="spacingAndGlyphs" transform="rotate(-90 257.43 379.00)" stroke="#1a1a1a" stroke-width="0.12">M717</text>
<text x="264.99" y="379.00" font-size="5.5" text-anchor="end" fill="#1a1a1a" font-weight="bold" textLength="13.4" lengthAdjust="spacingAndGlyphs" transform="rotate(-90 264.99 379.00)" stroke="#1a1a1a" stroke-width="0.12">M720</text>
<text x="272.55" y="379.00" font-size="5.5" text-anchor="end" fill="#1a1a1a" font-weight="bold" textLength="13.4" lengthAdjust="spacingAndGlyphs" transform="rotate(-90 272.55 379.00)" stroke="#1a1a1a" stroke-width="0.12">M724</text>
<text x="280.10" y="379.00" font-size="5.5" text-anchor="end" fill="#1a1a1a" font-weight="bold" textLength="13.4" lengthAdjust="spacingAndGlyphs" transform="rotate(-90 280.10 379.00)" stroke="#1a1a1a" stroke-width="0.12">M725</text>
<text x="287.66" y="379.00" font-size="5.5" text-anchor="end" fill="#1a1a1a" font-weight="bold" textLength="13.4" lengthAdjust="spacingAndGlyphs" transform="rotate(-90 287.66 379.00)" stroke="#1a1a1a" stroke-width="0.12">M726</text>
<text x="295.21" y="379.00" font-size="5.5" text-anchor="end" fill="#1a1a1a" font-weight="bold" textLength="13.4" lengthAdjust="spacingAndGlyphs" transform="rotate(-90 295.21 379.00)" stroke="#1a1a1a" stroke-width="0.12">M727</text>
<text x="302.77" y="379.00" font-size="5.5" text-anchor="end" fill="#1a1a1a" font-weight="bold" textLength="13.4" lengthAdjust="spacingAndGlyphs" transform="rotate(-90 302.77 379.00)" stroke="#1a1a1a" stroke-width="0.12">M729</text>
<text x="310.33" y="379.00" font-size="5.5" text-anchor="end" fill="#1a1a1a" font-weight="bold" textLength="13.4" lengthAdjust="spacingAndGlyphs" transform="rotate(-90 310.33 379.00)" stroke="#1a1a1a" stroke-width="0.12">M730</text>
<text x="317.88" y="379.00" font-size="5.5" text-anchor="end" fill="#1a1a1a" font-weight="bold" textLength="13.4" lengthAdjust="spacingAndGlyphs" transform="rotate(-90 317.88 379.00)" stroke="#1a1a1a" stroke-width="0.12">M731</text>
<text x="325.44" y="379.00" font-size="5.5" text-anchor="end" fill="#1a1a1a" font-weight="bold" textLength="13.4" lengthAdjust="spacingAndGlyphs" transform="rotate(-90 325.44 379.00)" stroke="#1a1a1a" stroke-width="0.12">M732</text>
<text x="332.99" y="379.00" font-size="5.5" text-anchor="end" fill="#1a1a1a" font-weight="bold" textLength="13.4" lengthAdjust="spacingAndGlyphs" transform="rotate(-90 332.99 379.00)" stroke="#1a1a1a" stroke-width="0.12">M735</text>
<text x="340.55" y="379.00" font-size="5.5" text-anchor="end" fill="#1a1a1a" font-weight="bold" textLength="13.4" lengthAdjust="spacingAndGlyphs" transform="rotate(-90 340.55 379.00)" stroke="#1a1a1a" stroke-width="0.12">M736</text>
<text x="348.11" y="379.00" font-size="5.5" text-anchor="end" fill="#1a1a1a" font-weight="bold" textLength="13.4" lengthAdjust="spacingAndGlyphs" transform="rotate(-90 348.11 379.00)" stroke="#1a1a1a" stroke-width="0.12">M737</text>
<text x="355.66" y="379.00" font-size="5.5" text-anchor="end" fill="#1a1a1a" font-weight="bold" textLength="13.4" lengthAdjust="spacingAndGlyphs" transform="rotate(-90 355.66 379.00)" stroke="#1a1a1a" stroke-width="0.12">M740</text>
<text x="363.22" y="379.00" font-size="5.5" text-anchor="end" fill="#1a1a1a" font-weight="bold" textLength="13.4" lengthAdjust="spacingAndGlyphs" transform="rotate(-90 363.22 379.00)" stroke="#1a1a1a" stroke-width="0.12">M742</text>
<text x="370.77" y="379.00" font-size="5.5" text-anchor="end" fill="#1a1a1a" font-weight="bold" textLength="13.4" lengthAdjust="spacingAndGlyphs" transform="rotate(-90 370.77 379.00)" stroke="#1a1a1a" stroke-width="0.12">M753</text>
<text x="378.33" y="379.00" font-size="5.5" text-anchor="end" fill="#1a1a1a" font-weight="bold" textLength="13.4" lengthAdjust="spacingAndGlyphs" transform="rotate(-90 378.33 379.00)" stroke="#1a1a1a" stroke-width="0.12">M759</text>
<text x="385.89" y="379.00" font-size="5.5" text-anchor="end" fill="#1a1a1a" font-weight="bold" textLength="11.5" lengthAdjust="spacingAndGlyphs" transform="rotate(-90 385.89 379.00)" stroke="#1a1a1a" stroke-width="0.12">MM1</text>
<text x="393.44" y="379.00" font-size="5.5" text-anchor="end" fill="#1a1a1a" font-weight="bold" textLength="11.5" lengthAdjust="spacingAndGlyphs" transform="rotate(-90 393.44 379.00)" stroke="#1a1a1a" stroke-width="0.12">MM2</text>
<text x="401.00" y="379.00" font-size="5.5" text-anchor="end" fill="#1a1a1a" font-weight="bold" textLength="11.5" lengthAdjust="spacingAndGlyphs" transform="rotate(-90 401.00 379.00)" stroke="#1a1a1a" stroke-width="0.12">MM3</text>
<text x="408.55" y="379.00" font-size="5.5" text-anchor="end" fill="#1a1a1a" font-weight="bold" textLength="11.5" lengthAdjust="spacingAndGlyphs" transform="rotate(-90 408.55 379.00)" stroke="#1a1a1a" stroke-width="0.12">MM4</text>
<text x="416.11" y="379.00" font-size="5.5" text-anchor="end" fill="#1a1a1a" font-weight="bold" textLength="11.5" lengthAdjust="spacingAndGlyphs" transform="rotate(-90 416.11 379.00)" stroke="#1a1a1a" stroke-width="0.12">MM5</text>
<text x="423.67" y="379.00" font-size="5.5" text-anchor="end" fill="#1a1a1a" font-weight="bold" textLength="11.5" lengthAdjust="spacingAndGlyphs" transform="rotate(-90 423.67 379.00)" stroke="#1a1a1a" stroke-width="0.12">MM8</text>
<text x="431.22" y="379.00" font-size="5.5" text-anchor="end" fill="#1a1a1a" font-weight="bold" textLength="11.5" lengthAdjust="spacingAndGlyphs" transform="rotate(-90 431.22 379.00)" stroke="#1a1a1a" stroke-width="0.12">MM9</text>
<rect x="259.80" y="222.58" width="6.40" height="5.25" fill="none" stroke="#ebb514" stroke-width="1.3"/>
<rect x="297.60" y="222.58" width="6.40" height="5.25" fill="none" stroke="#ebb514" stroke-width="1.3"/>
<rect x="343.20" y="235.44" width="6.00" height="4.92" fill="none" stroke="#ebb514" stroke-width="1.3"/>
<rect x="343.10" y="306.06" width="6.20" height="5.08" fill="none" stroke="#ebb514" stroke-width="1.3"/>
<rect x="350.70" y="306.06" width="6.20" height="5.08" fill="none" stroke="#ebb514" stroke-width="1.3"/>
<rect x="388.50" y="299.44" width="6.00" height="4.92" fill="none" stroke="#ebb514" stroke-width="1.3"/>
<rect x="245.20" y="344.50" width="5.60" height="4.59" fill="none" stroke="#ebb514" stroke-width="1.3"/>
<rect x="276.10" y="217.33" width="3.80" height="3.34" fill="none" stroke="#ebb514" stroke-width="1.4"/>
<rect x="268.70" y="230.02" width="3.60" height="3.17" fill="none" stroke="#ebb514" stroke-width="1.4"/>
<rect x="367.20" y="230.22" width="3.60" height="3.17" fill="none" stroke="#ebb514" stroke-width="1.4"/>
<rect x="321.50" y="261.64" width="4.00" height="3.52" fill="none" stroke="#ebb514" stroke-width="1.4"/>
<rect x="344.40" y="268.72" width="3.60" height="3.17" fill="none" stroke="#ebb514" stroke-width="1.4"/>
<rect x="397.30" y="255.54" width="4.00" height="3.52" fill="none" stroke="#ebb514" stroke-width="1.4"/>
<rect x="252.70" y="280.22" width="5.40" height="4.75" fill="none" stroke="#ebb514" stroke-width="1.4"/>
<rect x="419.70" y="286.89" width="4.80" height="4.22" fill="none" stroke="#ebb514" stroke-width="1.4"/>
<rect x="427.50" y="287.24" width="4.00" height="3.52" fill="none" stroke="#ebb514" stroke-width="1.4"/>
<rect x="253.10" y="325.49" width="4.80" height="4.22" fill="none" stroke="#ebb514" stroke-width="1.4"/>
<rect x="321.40" y="312.95" width="4.20" height="3.70" fill="none" stroke="#ebb514" stroke-width="1.4"/>
<rect x="328.90" y="332.08" width="4.60" height="4.05" fill="none" stroke="#ebb514" stroke-width="1.4"/>
<rect x="381.60" y="351.19" width="4.80" height="4.22" fill="none" stroke="#ebb514" stroke-width="1.4"/>
<rect x="246.65" y="211.30" width="2.10" height="2.80" fill="#ebb514"/>
<rect x="254.35" y="249.80" width="2.10" height="2.80" fill="#ebb514"/>
<rect x="284.65" y="256.00" width="2.10" height="2.80" fill="#ebb514"/>
<rect x="337.45" y="230.20" width="2.10" height="2.80" fill="#ebb514"/>
<rect x="383.25" y="255.90" width="2.10" height="2.80" fill="#ebb514"/>
<rect x="405.85" y="255.90" width="2.10" height="2.80" fill="#ebb514"/>
<rect x="330.15" y="307.20" width="2.10" height="2.80" fill="#ebb514"/>
<rect x="322.45" y="319.80" width="2.10" height="2.80" fill="#ebb514"/>
<rect x="352.75" y="345.30" width="2.10" height="2.80" fill="#ebb514"/>
<rect x="428.45" y="294.20" width="2.10" height="2.80" fill="#ebb514"/>
<rect x="428.10" y="236.10" width="2.80" height="3.20" fill="#ebb514"/>
<rect x="397.90" y="274.70" width="2.80" height="3.20" fill="#ebb514"/>
<rect x="428.90" y="250.30" width="1.20" height="1.20" fill="#ebb514"/>
<rect x="411.90" y="290.20" width="1.20" height="1.20" fill="#ebb514"/>
<rect x="391.20" y="359.10" width="1.20" height="1.20" fill="#ebb514"/>
<rect x="275.70" y="287.30" width="4.60" height="4.00" fill="none" stroke="#4b1a6e" stroke-width="1.3"/>
<rect x="291.30" y="358.00" width="3.60" height="4.00" fill="#4b1a6e"/>
<rect x="270.00" y="288.80" width="1.00" height="1.00" fill="#4b1a6e"/>
<rect x="383.80" y="230.70" width="1.00" height="1.00" fill="#4b1a6e"/>
<rect x="398.80" y="244.10" width="1.00" height="1.00" fill="#4b1a6e"/>
<rect x="391.30" y="256.80" width="1.00" height="1.00" fill="#4b1a6e"/>
<rect x="413.80" y="287.20" width="1.00" height="1.00" fill="#4b1a6e"/>
<rect x="338.00" y="365.80" width="1.00" height="1.00" fill="#4b1a6e"/>
<rect x="397.00" y="340.00" width="1.00" height="1.00" fill="#4b1a6e"/>
<rect x="399.90" y="340.00" width="1.00" height="1.00" fill="#4b1a6e"/>
<rect x="254.40" y="370.90" width="2.00" height="2.80" fill="#4b1a6e"/>
<text x="470.90" y="213.80" font-size="5.5" text-anchor="start" fill="#111" font-weight="bold" textLength="23.8" lengthAdjust="spacingAndGlyphs" stroke="#111" stroke-width="0.12">log2CPM</text>
<defs><linearGradient id="gD" x1="0" y1="0" x2="0" y2="1"><stop offset="0" stop-color="#1b6b33"/><stop offset="0.35" stop-color="#3d9b57"/><stop offset="0.65" stop-color="#9fd09b"/><stop offset="1" stop-color="#f0f7ee"/></linearGradient></defs>
<rect x="470.90" y="217.40" width="5.60" height="31.20" fill="url(#gD)"/>
<line x1="470.90" y1="219.30" x2="472.00" y2="219.30" stroke="#fff" stroke-width="0.5"/>
<line x1="475.40" y1="219.30" x2="476.50" y2="219.30" stroke="#fff" stroke-width="0.5"/>
<text x="479.30" y="221.20" font-size="5.4" text-anchor="start" fill="#111" stroke="#111" stroke-width="0.12">15</text>
<line x1="470.90" y1="224.40" x2="472.00" y2="224.40" stroke="#fff" stroke-width="0.5"/>
<line x1="475.40" y1="224.40" x2="476.50" y2="224.40" stroke="#fff" stroke-width="0.5"/>
<text x="479.30" y="226.30" font-size="5.4" text-anchor="start" fill="#111" stroke="#111" stroke-width="0.12">10</text>
<line x1="470.90" y1="230.20" x2="472.00" y2="230.20" stroke="#fff" stroke-width="0.5"/>
<line x1="475.40" y1="230.20" x2="476.50" y2="230.20" stroke="#fff" stroke-width="0.5"/>
<text x="479.30" y="232.10" font-size="5.4" text-anchor="start" fill="#111" stroke="#111" stroke-width="0.12">5</text>
<line x1="470.90" y1="235.30" x2="472.00" y2="235.30" stroke="#fff" stroke-width="0.5"/>
<line x1="475.40" y1="235.30" x2="476.50" y2="235.30" stroke="#fff" stroke-width="0.5"/>
<text x="479.30" y="237.20" font-size="5.4" text-anchor="start" fill="#111" stroke="#111" stroke-width="0.12">0</text>
<line x1="470.90" y1="240.90" x2="472.00" y2="240.90" stroke="#fff" stroke-width="0.5"/>
<line x1="475.40" y1="240.90" x2="476.50" y2="240.90" stroke="#fff" stroke-width="0.5"/>
<text x="479.30" y="242.80" font-size="5.4" text-anchor="start" fill="#111" stroke="#111" stroke-width="0.12">−5</text>
<line x1="470.90" y1="246.30" x2="472.00" y2="246.30" stroke="#fff" stroke-width="0.5"/>
<line x1="475.40" y1="246.30" x2="476.50" y2="246.30" stroke="#fff" stroke-width="0.5"/>
<text x="479.30" y="248.20" font-size="5.4" text-anchor="start" fill="#111" stroke="#111" stroke-width="0.12">−10</text>
<rect x="471.30" y="262.30" width="4.80" height="4.50" fill="#ebb514"/>
<text x="479.30" y="263.30" font-size="5.4" text-anchor="start" fill="#111" stroke="#111" stroke-width="0.12">RNA and DNA</text>
<text x="479.30" y="269.80" font-size="5.4" text-anchor="start" fill="#111" stroke="#111" stroke-width="0.12">mutation</text>
<rect x="471.30" y="276.70" width="4.80" height="4.50" fill="#4b1a6e"/>
<text x="479.30" y="280.60" font-size="5.4" text-anchor="start" fill="#111" stroke="#111" stroke-width="0.12">DNA mutation</text>
<text x="471.50" y="297.80" font-size="5.5" text-anchor="start" fill="#111" font-weight="bold" textLength="36.6" lengthAdjust="spacingAndGlyphs" stroke="#111" stroke-width="0.12">Tumor fraction</text>
<rect x="470.70" y="302.20" width="6.60" height="7.60" fill="none" stroke="#111" stroke-width="1.3"/>
<text x="480.40" y="307.90" font-size="5.4" text-anchor="start" fill="#222" stroke="#222" stroke-width="0.12">1</text>
<rect x="471.30" y="313.00" width="5.40" height="6.40" fill="none" stroke="#111" stroke-width="1.2"/>
<text x="480.00" y="318.10" font-size="5.4" text-anchor="start" fill="#222" stroke="#222" stroke-width="0.12">0.90-0.99</text>
<rect x="471.60" y="322.60" width="4.80" height="5.60" fill="none" stroke="#111" stroke-width="1.2"/>
<text x="479.20" y="327.30" font-size="5.4" text-anchor="start" fill="#222" stroke="#222" stroke-width="0.12">0.80-0.89</text>
<rect x="472.10" y="332.10" width="3.80" height="4.80" fill="none" stroke="#111" stroke-width="1.2"/>
<text x="478.80" y="336.40" font-size="5.4" text-anchor="start" fill="#222" stroke="#222" stroke-width="0.12">0.70-0.79</text>
<rect x="472.40" y="341.60" width="3.20" height="3.80" fill="none" stroke="#111" stroke-width="1.1"/>
<text x="478.40" y="345.40" font-size="5.4" text-anchor="start" fill="#222" stroke="#222" stroke-width="0.12">0.60-0.69</text>
<rect x="472.70" y="350.70" width="2.60" height="3.20" fill="none" stroke="#111" stroke-width="1.1"/>
<text x="478.00" y="354.20" font-size="5.4" text-anchor="start" fill="#222" stroke="#222" stroke-width="0.12">0.50-0.59</text>
<rect x="473.20" y="360.20" width="1.60" height="2.80" fill="#111"/>
<text x="477.90" y="363.50" font-size="5.4" text-anchor="start" fill="#222" stroke="#222" stroke-width="0.12">0.40-0.49</text>
<rect x="473.50" y="369.70" width="1.00" height="1.80" fill="#111"/>
<text x="477.90" y="372.50" font-size="5.4" text-anchor="start" fill="#222" stroke="#222" stroke-width="0.12">0.30-0.39</text>
<rect x="473.50" y="378.70" width="1.00" height="1.40" fill="#111"/>
<text x="477.90" y="381.30" font-size="5.4" text-anchor="start" fill="#222" stroke="#222" stroke-width="0.12">0.20-0.29</text>
<rect x="473.50" y="387.90" width="1.00" height="0.80" fill="#111"/>
<text x="477.90" y="390.20" font-size="5.4" text-anchor="start" fill="#222" stroke="#222" stroke-width="0.12">0.10-0.19</text>
<rect x="473.60" y="396.75" width="0.80" height="0.70" fill="#111"/>
<text x="477.90" y="399.00" font-size="5.4" text-anchor="start" fill="#222" stroke="#222" stroke-width="0.12">0.01-0.09</text>
<text x="194.80" y="420.60" font-size="5.4" text-anchor="middle" fill="#111" stroke="#111" stroke-width="0.12">TP53</text>
<text x="79.60" y="429.90" font-size="5.3" text-anchor="start" fill="#111" stroke="#111" stroke-width="0.12">Mutation type</text>
<rect x="80.00" y="434.30" width="5.00" height="4.20" fill="#3a963a"/>
<text x="88.30" y="438.10" font-size="4.6" text-anchor="start" fill="#222" stroke="#222" stroke-width="0.12">Missense</text>
<rect x="115.00" y="434.30" width="5.00" height="4.20" fill="#a0c860"/>
<text x="123.50" y="438.10" font-size="4.6" text-anchor="start" fill="#222" stroke="#222" stroke-width="0.12">Complex</text>
<text x="79.60" y="453.00" font-size="4.6" text-anchor="start" fill="#222" stroke="#222" stroke-width="0.12">P(F)</text>
<rect x="97.50" y="445.00" width="5.20" height="4.60" fill="#fff5c4"/>
<text x="105.80" y="448.90" font-size="4.6" text-anchor="start" fill="#222" stroke="#222" stroke-width="0.12">0.0 - 0.1</text>
<rect x="97.50" y="453.00" width="5.20" height="4.60" fill="#fde7a0"/>
<text x="105.80" y="456.90" font-size="4.6" text-anchor="start" fill="#222" stroke="#222" stroke-width="0.12">0.1 - 0.2</text>
<rect x="140.20" y="445.00" width="5.20" height="4.60" fill="#f9d071"/>
<text x="148.50" y="448.90" font-size="4.6" text-anchor="start" fill="#222" stroke="#222" stroke-width="0.12">0.2 - 0.3</text>
<rect x="140.20" y="453.00" width="5.20" height="4.60" fill="#efb04c"/>
<text x="148.50" y="456.90" font-size="4.6" text-anchor="start" fill="#222" stroke="#222" stroke-width="0.12">0.3 - 0.4</text>
<rect x="184.00" y="445.00" width="5.20" height="4.60" fill="#e48a3a"/>
<text x="192.30" y="448.90" font-size="4.6" text-anchor="start" fill="#222" stroke="#222" stroke-width="0.12">0.4 - 0.5</text>
<rect x="184.00" y="453.00" width="5.20" height="4.60" fill="#da6a2c"/>
<text x="192.30" y="456.90" font-size="4.6" text-anchor="start" fill="#222" stroke="#222" stroke-width="0.12">0.5 - 0.6</text>
<rect x="228.10" y="445.00" width="5.20" height="4.60" fill="#d24a28"/>
<text x="236.40" y="448.90" font-size="4.6" text-anchor="start" fill="#222" stroke="#222" stroke-width="0.12">0.6 - 0.7</text>
<rect x="228.10" y="453.00" width="5.20" height="4.60" fill="#c8261e"/>
<text x="236.40" y="456.90" font-size="4.6" text-anchor="start" fill="#222" stroke="#222" stroke-width="0.12">0.7 - 0.8</text>
<rect x="271.90" y="445.00" width="5.20" height="4.60" fill="#b5112b"/>
<text x="280.20" y="448.90" font-size="4.6" text-anchor="start" fill="#222" stroke="#222" stroke-width="0.12">0.8 - 0.9</text>
<rect x="271.90" y="453.00" width="5.20" height="4.60" fill="#760a22"/>
<text x="280.20" y="456.90" font-size="4.6" text-anchor="start" fill="#222" stroke="#222" stroke-width="0.12">0.9 - 1.0</text>
<rect x="90.40" y="464.20" width="42.60" height="4.40" fill="#d2421f"/>
<rect x="90.40" y="468.50" width="42.60" height="4.20" fill="#3a9a3c"/>
<rect x="132.40" y="464.20" width="42.60" height="4.40" fill="#d2421f"/>
<rect x="132.40" y="468.50" width="42.60" height="4.20" fill="#9cc85a"/>
<rect x="174.40" y="464.20" width="42.60" height="4.40" fill="#760a22"/>
<rect x="174.40" y="468.50" width="42.60" height="4.20" fill="#3a9a3c"/>
<rect x="216.40" y="464.20" width="42.60" height="4.40" fill="#760a22"/>
<rect x="216.40" y="468.50" width="42.60" height="4.20" fill="#3a9a3c"/>
<rect x="258.40" y="464.20" width="42.00" height="4.40" fill="#760a22"/>
<rect x="258.40" y="468.50" width="42.00" height="4.20" fill="#3a9a3c"/>
<text x="87.60" y="467.80" font-size="4.4" text-anchor="end" fill="#222" stroke="#222" stroke-width="0.12">P(F)</text>
<text x="87.60" y="472.40" font-size="4.4" text-anchor="end" fill="#222" stroke="#222" stroke-width="0.12">Mutation</text>
<rect x="90.40" y="475.60" width="210.00" height="206.09" fill="#e4e4e4"/>
<rect x="90.40" y="475.60" width="42.50" height="4.71" fill="#d7e2eb"/>
<rect x="90.40" y="479.81" width="42.50" height="4.71" fill="#ece2dc"/>
<rect x="90.40" y="484.01" width="42.50" height="4.71" fill="#ece2dc"/>
<rect x="90.40" y="488.22" width="42.50" height="4.71" fill="#dfe4ea"/>
<rect x="90.40" y="492.42" width="42.50" height="4.71" fill="#9fcce2"/>
<rect x="90.40" y="496.63" width="42.50" height="4.71" fill="#acd2e6"/>
<rect x="90.40" y="500.84" width="42.50" height="4.71" fill="#4a98c9"/>
<rect x="90.40" y="505.04" width="42.50" height="4.71" fill="#d7e2eb"/>
<rect x="90.40" y="509.25" width="42.50" height="4.71" fill="#d6604d"/>
<rect x="90.40" y="513.45" width="42.50" height="4.71" fill="#1a4e8c"/>
<rect x="90.40" y="517.66" width="42.50" height="4.71" fill="#1e5a9c"/>
<rect x="90.40" y="521.87" width="42.50" height="4.71" fill="#2166ac"/>
<rect x="90.40" y="526.07" width="42.50" height="4.71" fill="#2166ac"/>
<rect x="90.40" y="530.28" width="42.50" height="4.71" fill="#1a4e8c"/>
<rect x="90.40" y="534.48" width="42.50" height="4.71" fill="#790622"/>
<rect x="90.40" y="538.69" width="42.50" height="4.71" fill="#d7e2eb"/>
<rect x="90.40" y="542.90" width="42.50" height="4.71" fill="#c6dfee"/>
<rect x="90.40" y="547.10" width="42.50" height="4.71" fill="#dfe4ea"/>
<rect x="90.40" y="551.31" width="42.50" height="4.71" fill="#dfe4ea"/>
<rect x="90.40" y="555.51" width="42.50" height="4.71" fill="#9fcce2"/>
<rect x="90.40" y="559.72" width="42.50" height="4.71" fill="#e9a88d"/>
<rect x="90.40" y="563.93" width="42.50" height="4.71" fill="#9fcce2"/>
<rect x="90.40" y="568.13" width="42.50" height="4.71" fill="#cee1ed"/>
<rect x="90.40" y="572.34" width="42.50" height="4.71" fill="#163f74"/>
<rect x="90.40" y="576.54" width="42.50" height="4.71" fill="#163f74"/>
<rect x="90.40" y="580.75" width="42.50" height="4.71" fill="#b2182b"/>
<rect x="90.40" y="584.96" width="42.50" height="4.71" fill="#f1d7c9"/>
<rect x="90.40" y="589.16" width="42.50" height="4.71" fill="#f1d7c9"/>
<rect x="90.40" y="593.37" width="42.50" height="4.71" fill="#f0c4ae"/>
<rect x="90.40" y="597.57" width="42.50" height="4.71" fill="#f1d7c9"/>
<rect x="90.40" y="601.78" width="42.50" height="4.71" fill="#4a98c9"/>
<rect x="90.40" y="605.99" width="42.50" height="4.71" fill="#2166ac"/>
<rect x="90.40" y="610.19" width="42.50" height="4.71" fill="#f0dbce"/>
<rect x="90.40" y="614.40" width="42.50" height="4.71" fill="#b2182b"/>
<rect x="90.40" y="618.60" width="42.50" height="4.71" fill="#f0c4ae"/>
<rect x="90.40" y="622.81" width="42.50" height="4.71" fill="#f1d7c9"/>
<rect x="90.40" y="627.02" width="42.50" height="4.71" fill="#ecb69e"/>
<rect x="90.40" y="631.22" width="42.50" height="4.71" fill="#cee1ed"/>
<rect x="90.40" y="635.43" width="42.50" height="4.71" fill="#dfe4ea"/>
<rect x="90.40" y="639.63" width="42.50" height="4.71" fill="#d7e2eb"/>
<rect x="90.40" y="643.84" width="42.50" height="4.71" fill="#d7e2eb"/>
<rect x="90.40" y="648.05" width="42.50" height="4.71" fill="#408cc2"/>
<rect x="90.40" y="652.25" width="42.50" height="4.71" fill="#f1d7c9"/>
<rect x="90.40" y="656.46" width="42.50" height="4.71" fill="#f1d7c9"/>
<rect x="90.40" y="660.66" width="42.50" height="4.71" fill="#367fba"/>
<rect x="90.40" y="664.87" width="42.50" height="4.71" fill="#e1e4e8"/>
<rect x="90.40" y="669.08" width="42.50" height="4.71" fill="#f4d2bf"/>
<rect x="90.40" y="673.28" width="42.50" height="4.71" fill="#f4d2bf"/>
<rect x="90.40" y="677.49" width="42.50" height="4.21" fill="#cee1ed"/>
<rect x="132.40" y="475.60" width="42.50" height="4.71" fill="#b2182b"/>
<rect x="132.40" y="479.81" width="42.50" height="4.71" fill="#efddd2"/>
<rect x="132.40" y="484.01" width="42.50" height="4.71" fill="#f0dbce"/>
<rect x="132.40" y="488.22" width="42.50" height="4.71" fill="#dfe4ea"/>
<rect x="132.40" y="492.42" width="42.50" height="4.71" fill="#9fcce2"/>
<rect x="132.40" y="496.63" width="42.50" height="4.71" fill="#c6dfee"/>
<rect x="132.40" y="500.84" width="42.50" height="4.71" fill="#6eaed4"/>
<rect x="132.40" y="505.04" width="42.50" height="4.71" fill="#6eaed4"/>
<rect x="132.40" y="509.25" width="42.50" height="4.71" fill="#2166ac"/>
<rect x="132.40" y="513.45" width="42.50" height="4.71" fill="#e7e3e1"/>
<rect x="132.40" y="517.66" width="42.50" height="4.71" fill="#dfe4ea"/>
<rect x="132.40" y="521.87" width="42.50" height="4.71" fill="#dfe4ea"/>
<rect x="132.40" y="526.07" width="42.50" height="4.71" fill="#ece2dc"/>
<rect x="132.40" y="530.28" width="42.50" height="4.71" fill="#ece2dc"/>
<rect x="132.40" y="534.48" width="42.50" height="4.71" fill="#ece2dc"/>
<rect x="132.40" y="538.69" width="42.50" height="4.71" fill="#c9e0ed"/>
<rect x="132.40" y="542.90" width="42.50" height="4.71" fill="#dae3eb"/>
<rect x="132.40" y="547.10" width="42.50" height="4.71" fill="#408cc2"/>
<rect x="132.40" y="551.31" width="42.50" height="4.71" fill="#4a98c9"/>
<rect x="132.40" y="555.51" width="42.50" height="4.71" fill="#d7e2eb"/>
<rect x="132.40" y="559.72" width="42.50" height="4.71" fill="#f1d7c9"/>
<rect x="132.40" y="563.93" width="42.50" height="4.71" fill="#f1d7c9"/>
<rect x="132.40" y="568.13" width="42.50" height="4.71" fill="#d7e2eb"/>
<rect x="132.40" y="572.34" width="42.50" height="4.71" fill="#c6dfee"/>
<rect x="132.40" y="576.54" width="42.50" height="4.71" fill="#c9e0ed"/>
<rect x="132.40" y="580.75" width="42.50" height="4.71" fill="#790622"/>
<rect x="132.40" y="584.96" width="42.50" height="4.71" fill="#790622"/>
<rect x="132.40" y="589.16" width="42.50" height="4.71" fill="#f1d7c9"/>
<rect x="132.40" y="593.37" width="42.50" height="4.71" fill="#e1e4e8"/>
<rect x="132.40" y="597.57" width="42.50" height="4.71" fill="#2166ac"/>
<rect x="132.40" y="601.78" width="42.50" height="4.71" fill="#4a98c9"/>
<rect x="132.40" y="605.99" width="42.50" height="4.71" fill="#d7e2eb"/>
<rect x="132.40" y="610.19" width="42.50" height="4.71" fill="#d6604d"/>
<rect x="132.40" y="614.40" width="42.50" height="4.71" fill="#c9e0ed"/>
<rect x="132.40" y="618.60" width="42.50" height="4.71" fill="#dae3eb"/>
<rect x="132.40" y="622.81" width="42.50" height="4.71" fill="#eebca4"/>
<rect x="132.40" y="627.02" width="42.50" height="4.71" fill="#e9a88d"/>
<rect x="132.40" y="631.22" width="42.50" height="4.71" fill="#dfe4ea"/>
<rect x="132.40" y="635.43" width="42.50" height="4.71" fill="#e4e4e4"/>
<rect x="132.40" y="639.63" width="42.50" height="4.71" fill="#e4e4e4"/>
<rect x="132.40" y="643.84" width="42.50" height="4.71" fill="#d3e2ec"/>
<rect x="132.40" y="648.05" width="42.50" height="4.71" fill="#184882"/>
<rect x="132.40" y="652.25" width="42.50" height="4.71" fill="#408cc2"/>
<rect x="132.40" y="656.46" width="42.50" height="4.71" fill="#12305c"/>
<rect x="132.40" y="660.66" width="42.50" height="4.71" fill="#12305c"/>
<rect x="132.40" y="664.87" width="42.50" height="4.71" fill="#eedfd6"/>
<rect x="132.40" y="669.08" width="42.50" height="4.71" fill="#1a4e8c"/>
<rect x="132.40" y="673.28" width="42.50" height="4.71" fill="#367fba"/>
<rect x="132.40" y="677.49" width="42.50" height="4.21" fill="#408cc2"/>
<rect x="174.40" y="475.60" width="42.50" height="4.71" fill="#eedfd6"/>
<rect x="174.40" y="479.81" width="42.50" height="4.71" fill="#eedfd6"/>
<rect x="174.40" y="484.01" width="42.50" height="4.71" fill="#eedfd6"/>
<rect x="174.40" y="488.22" width="42.50" height="4.71" fill="#97c8e0"/>
<rect x="174.40" y="492.42" width="42.50" height="4.71" fill="#80bad9"/>
<rect x="174.40" y="496.63" width="42.50" height="4.71" fill="#c9e0ed"/>
<rect x="174.40" y="500.84" width="42.50" height="4.71" fill="#c9e0ed"/>
<rect x="174.40" y="505.04" width="42.50" height="4.71" fill="#e59a7c"/>
<rect x="174.40" y="509.25" width="42.50" height="4.71" fill="#eedfd6"/>
<rect x="174.40" y="513.45" width="42.50" height="4.71" fill="#e4e4e4"/>
<rect x="174.40" y="517.66" width="42.50" height="4.71" fill="#e4e4e4"/>
<rect x="174.40" y="521.87" width="42.50" height="4.71" fill="#eedfd6"/>
<rect x="174.40" y="526.07" width="42.50" height="4.71" fill="#eedfd6"/>
<rect x="174.40" y="530.28" width="42.50" height="4.71" fill="#bb2a34"/>
<rect x="174.40" y="534.48" width="42.50" height="4.71" fill="#f4d2bf"/>
<rect x="174.40" y="538.69" width="42.50" height="4.71" fill="#d7e2eb"/>
<rect x="174.40" y="542.90" width="42.50" height="4.71" fill="#cbe0ed"/>
<rect x="174.40" y="547.10" width="42.50" height="4.71" fill="#cbe0ed"/>
<rect x="174.40" y="551.31" width="42.50" height="4.71" fill="#2166ac"/>
<rect x="174.40" y="555.51" width="42.50" height="4.71" fill="#2166ac"/>
<rect x="174.40" y="559.72" width="42.50" height="4.71" fill="#3a84bd"/>
<rect x="174.40" y="563.93" width="42.50" height="4.71" fill="#2166ac"/>
<rect x="174.40" y="568.13" width="42.50" height="4.71" fill="#1c5596"/>
<rect x="174.40" y="572.34" width="42.50" height="4.71" fill="#1c5596"/>
<rect x="174.40" y="576.54" width="42.50" height="4.71" fill="#1e5a9c"/>
<rect x="174.40" y="580.75" width="42.50" height="4.71" fill="#9e1228"/>
<rect x="174.40" y="584.96" width="42.50" height="4.71" fill="#7f0823"/>
<rect x="174.40" y="589.16" width="42.50" height="4.71" fill="#8a0b25"/>
<rect x="174.40" y="593.37" width="42.50" height="4.71" fill="#8a0b25"/>
<rect x="174.40" y="597.57" width="42.50" height="4.71" fill="#8a0b25"/>
<rect x="174.40" y="601.78" width="42.50" height="4.71" fill="#d6604d"/>
<rect x="174.40" y="605.99" width="42.50" height="4.71" fill="#c8433f"/>
<rect x="174.40" y="610.19" width="42.50" height="4.71" fill="#1b5392"/>
<rect x="174.40" y="614.40" width="42.50" height="4.71" fill="#519ccb"/>
<rect x="174.40" y="618.60" width="42.50" height="4.71" fill="#519ccb"/>
<rect x="174.40" y="622.81" width="42.50" height="4.71" fill="#df8369"/>
<rect x="174.40" y="627.02" width="42.50" height="4.71" fill="#f3d4c3"/>
<rect x="174.40" y="631.22" width="42.50" height="4.71" fill="#408cc2"/>
<rect x="174.40" y="635.43" width="42.50" height="4.71" fill="#e1e4e8"/>
<rect x="174.40" y="639.63" width="42.50" height="4.71" fill="#dce3eb"/>
<rect x="174.40" y="643.84" width="42.50" height="4.71" fill="#d7e2eb"/>
<rect x="174.40" y="648.05" width="42.50" height="4.71" fill="#d7e2eb"/>
<rect x="174.40" y="652.25" width="42.50" height="4.71" fill="#163f74"/>
<rect x="174.40" y="656.46" width="42.50" height="4.71" fill="#163f74"/>
<rect x="174.40" y="660.66" width="42.50" height="4.71" fill="#163f74"/>
<rect x="174.40" y="664.87" width="42.50" height="4.71" fill="#18457e"/>
<rect x="174.40" y="669.08" width="42.50" height="4.71" fill="#1b5392"/>
<rect x="174.40" y="673.28" width="42.50" height="4.71" fill="#3a84bd"/>
<rect x="174.40" y="677.49" width="42.50" height="4.21" fill="#256baf"/>
<rect x="216.40" y="475.60" width="42.50" height="4.71" fill="#b2182b"/>
<rect x="216.40" y="479.81" width="42.50" height="4.71" fill="#e6a083"/>
<rect x="216.40" y="484.01" width="42.50" height="4.71" fill="#e18c70"/>
<rect x="216.40" y="488.22" width="42.50" height="4.71" fill="#bb2a34"/>
<rect x="216.40" y="492.42" width="42.50" height="4.71" fill="#8a0b25"/>
<rect x="216.40" y="496.63" width="42.50" height="4.71" fill="#d6604d"/>
<rect x="216.40" y="500.84" width="42.50" height="4.71" fill="#da6e59"/>
<rect x="216.40" y="505.04" width="42.50" height="4.71" fill="#790622"/>
<rect x="216.40" y="509.25" width="42.50" height="4.71" fill="#790622"/>
<rect x="216.40" y="513.45" width="42.50" height="4.71" fill="#67001f"/>
<rect x="216.40" y="517.66" width="42.50" height="4.71" fill="#67001f"/>
<rect x="216.40" y="521.87" width="42.50" height="4.71" fill="#67001f"/>
<rect x="216.40" y="526.07" width="42.50" height="4.71" fill="#67001f"/>
<rect x="216.40" y="530.28" width="42.50" height="4.71" fill="#67001f"/>
<rect x="216.40" y="534.48" width="42.50" height="4.71" fill="#d7e2eb"/>
<rect x="216.40" y="538.69" width="42.50" height="4.71" fill="#efddd2"/>
<rect x="216.40" y="542.90" width="42.50" height="4.71" fill="#d7e2eb"/>
<rect x="216.40" y="547.10" width="42.50" height="4.71" fill="#d7e2eb"/>
<rect x="216.40" y="551.31" width="42.50" height="4.71" fill="#b2182b"/>
<rect x="216.40" y="555.51" width="42.50" height="4.71" fill="#aa152a"/>
<rect x="216.40" y="559.72" width="42.50" height="4.71" fill="#f1d7c9"/>
<rect x="216.40" y="563.93" width="42.50" height="4.71" fill="#f1d7c9"/>
<rect x="216.40" y="568.13" width="42.50" height="4.71" fill="#f0c4ae"/>
<rect x="216.40" y="572.34" width="42.50" height="4.71" fill="#ece2dc"/>
<rect x="216.40" y="576.54" width="42.50" height="4.71" fill="#f4d2bf"/>
<rect x="216.40" y="580.75" width="42.50" height="4.71" fill="#ece2dc"/>
<rect x="216.40" y="584.96" width="42.50" height="4.71" fill="#ece2dc"/>
<rect x="216.40" y="589.16" width="42.50" height="4.71" fill="#d7e2eb"/>
<rect x="216.40" y="593.37" width="42.50" height="4.71" fill="#d7e2eb"/>
<rect x="216.40" y="597.57" width="42.50" height="4.71" fill="#ecb69e"/>
<rect x="216.40" y="601.78" width="42.50" height="4.71" fill="#c6dfee"/>
<rect x="216.40" y="605.99" width="42.50" height="4.71" fill="#f1d7c9"/>
<rect x="216.40" y="610.19" width="42.50" height="4.71" fill="#f3d4c3"/>
<rect x="216.40" y="614.40" width="42.50" height="4.71" fill="#c6dfee"/>
<rect x="216.40" y="618.60" width="42.50" height="4.71" fill="#ebb097"/>
<rect x="216.40" y="622.81" width="42.50" height="4.71" fill="#367fba"/>
<rect x="216.40" y="627.02" width="42.50" height="4.71" fill="#367fba"/>
<rect x="216.40" y="631.22" width="42.50" height="4.71" fill="#1c5596"/>
<rect x="216.40" y="635.43" width="42.50" height="4.71" fill="#2166ac"/>
<rect x="216.40" y="639.63" width="42.50" height="4.71" fill="#256baf"/>
<rect x="216.40" y="643.84" width="42.50" height="4.71" fill="#408cc2"/>
<rect x="216.40" y="648.05" width="42.50" height="4.71" fill="#163f74"/>
<rect x="216.40" y="652.25" width="42.50" height="4.71" fill="#163f74"/>
<rect x="216.40" y="656.46" width="42.50" height="4.71" fill="#18457e"/>
<rect x="216.40" y="660.66" width="42.50" height="4.71" fill="#eebca4"/>
<rect x="216.40" y="664.87" width="42.50" height="4.71" fill="#c9e0ed"/>
<rect x="216.40" y="669.08" width="42.50" height="4.71" fill="#c9e0ed"/>
<rect x="216.40" y="673.28" width="42.50" height="4.71" fill="#d3e2ec"/>
<rect x="216.40" y="677.49" width="42.50" height="4.21" fill="#d3e2ec"/>
<rect x="258.40" y="475.60" width="42.00" height="4.71" fill="#ebb097"/>
<rect x="258.40" y="479.81" width="42.00" height="4.71" fill="#ebb097"/>
<rect x="258.40" y="484.01" width="42.00" height="4.71" fill="#e7e3e1"/>
<rect x="258.40" y="488.22" width="42.00" height="4.71" fill="#f0d9cd"/>
<rect x="258.40" y="492.42" width="42.00" height="4.71" fill="#b9d8ea"/>
<rect x="258.40" y="496.63" width="42.00" height="4.71" fill="#d86954"/>
<rect x="258.40" y="500.84" width="42.00" height="4.71" fill="#e6a083"/>
<rect x="258.40" y="505.04" width="42.00" height="4.71" fill="#d6604d"/>
<rect x="258.40" y="509.25" width="42.00" height="4.71" fill="#b9d8ea"/>
<rect x="258.40" y="513.45" width="42.00" height="4.71" fill="#e4e4e4"/>
<rect x="258.40" y="517.66" width="42.00" height="4.71" fill="#e4e4e4"/>
<rect x="258.40" y="521.87" width="42.00" height="4.71" fill="#7f0823"/>
<rect x="258.40" y="526.07" width="42.00" height="4.71" fill="#8a0b25"/>
<rect x="258.40" y="530.28" width="42.00" height="4.71" fill="#7f0823"/>
<rect x="258.40" y="534.48" width="42.00" height="4.71" fill="#7f0823"/>
<rect x="258.40" y="538.69" width="42.00" height="4.71" fill="#720321"/>
<rect x="258.40" y="542.90" width="42.00" height="4.71" fill="#aa152a"/>
<rect x="258.40" y="547.10" width="42.00" height="4.71" fill="#aa152a"/>
<rect x="258.40" y="551.31" width="42.00" height="4.71" fill="#aa152a"/>
<rect x="258.40" y="555.51" width="42.00" height="4.71" fill="#de7d64"/>
<rect x="258.40" y="559.72" width="42.00" height="4.71" fill="#de7d64"/>
<rect x="258.40" y="563.93" width="42.00" height="4.71" fill="#b2182b"/>
<rect x="258.40" y="568.13" width="42.00" height="4.71" fill="#d86954"/>
<rect x="258.40" y="572.34" width="42.00" height="4.71" fill="#67001f"/>
<rect x="258.40" y="576.54" width="42.00" height="4.71" fill="#bb2a34"/>
<rect x="258.40" y="580.75" width="42.00" height="4.71" fill="#d2e1ec"/>
<rect x="258.40" y="584.96" width="42.00" height="4.71" fill="#18457e"/>
<rect x="258.40" y="589.16" width="42.00" height="4.71" fill="#2166ac"/>
<rect x="258.40" y="593.37" width="42.00" height="4.71" fill="#e18c70"/>
<rect x="258.40" y="597.57" width="42.00" height="4.71" fill="#eedfd6"/>
<rect x="258.40" y="601.78" width="42.00" height="4.71" fill="#da6e59"/>
<rect x="258.40" y="605.99" width="42.00" height="4.71" fill="#acd2e6"/>
<rect x="258.40" y="610.19" width="42.00" height="4.71" fill="#2b72b3"/>
<rect x="258.40" y="614.40" width="42.00" height="4.71" fill="#9fcce2"/>
<rect x="258.40" y="618.60" width="42.00" height="4.71" fill="#367fba"/>
<rect x="258.40" y="622.81" width="42.00" height="4.71" fill="#367fba"/>
<rect x="258.40" y="627.02" width="42.00" height="4.71" fill="#367fba"/>
<rect x="258.40" y="631.22" width="42.00" height="4.71" fill="#3a84bd"/>
<rect x="258.40" y="635.43" width="42.00" height="4.71" fill="#18457e"/>
<rect x="258.40" y="639.63" width="42.00" height="4.71" fill="#3a84bd"/>
<rect x="258.40" y="643.84" width="42.00" height="4.71" fill="#2166ac"/>
<rect x="258.40" y="648.05" width="42.00" height="4.71" fill="#de7d64"/>
<rect x="258.40" y="652.25" width="42.00" height="4.71" fill="#c9e0ed"/>
<rect x="258.40" y="656.46" width="42.00" height="4.71" fill="#f4d2bf"/>
<rect x="258.40" y="660.66" width="42.00" height="4.71" fill="#e2e4e6"/>
<rect x="258.40" y="664.87" width="42.00" height="4.71" fill="#e2e4e6"/>
<rect x="258.40" y="669.08" width="42.00" height="4.71" fill="#efddd2"/>
<rect x="258.40" y="673.28" width="42.00" height="4.71" fill="#d3e2ec"/>
<rect x="258.40" y="677.49" width="42.00" height="4.21" fill="#acd2e6"/>
<text x="303.70" y="479.20" font-size="4.2" text-anchor="start" fill="#222" stroke="#222" stroke-width="0.12">BCL2</text>
<text x="303.70" y="483.41" font-size="4.2" text-anchor="start" fill="#222" stroke="#222" stroke-width="0.12">RCHY1</text>
<text x="303.70" y="487.62" font-size="4.2" text-anchor="start" fill="#222" stroke="#222" stroke-width="0.12">KAT2B</text>
<text x="303.70" y="491.82" font-size="4.2" text-anchor="start" fill="#222" stroke="#222" stroke-width="0.12">RRM2B</text>
<text x="303.70" y="496.03" font-size="4.2" text-anchor="start" fill="#222" stroke="#222" stroke-width="0.12">COPS5</text>
<text x="303.70" y="500.23" font-size="4.2" text-anchor="start" fill="#222" stroke="#222" stroke-width="0.12">CCNG1</text>
<text x="303.70" y="504.44" font-size="4.2" text-anchor="start" fill="#222" stroke="#222" stroke-width="0.12">MAPK8</text>
<text x="303.70" y="508.65" font-size="4.2" text-anchor="start" fill="#222" stroke="#222" stroke-width="0.12">UBE3A</text>
<text x="303.70" y="512.85" font-size="4.2" text-anchor="start" fill="#222" stroke="#222" stroke-width="0.12">MDM2</text>
<text x="303.70" y="517.06" font-size="4.2" text-anchor="start" fill="#222" stroke="#222" stroke-width="0.12">CREBBP</text>
<text x="303.70" y="521.26" font-size="4.2" text-anchor="start" fill="#222" stroke="#222" stroke-width="0.12">MDM4</text>
<text x="303.70" y="525.47" font-size="4.2" text-anchor="start" fill="#222" stroke="#222" stroke-width="0.12">EP300</text>
<text x="303.70" y="529.68" font-size="4.2" text-anchor="start" fill="#222" stroke="#222" stroke-width="0.12">USP7</text>
<text x="303.70" y="533.88" font-size="4.2" text-anchor="start" fill="#222" stroke="#222" stroke-width="0.12">UBE2I</text>
<text x="303.70" y="538.09" font-size="4.2" text-anchor="start" fill="#222" stroke="#222" stroke-width="0.12">PPP1R13L</text>
<text x="303.70" y="542.29" font-size="4.2" text-anchor="start" fill="#222" stroke="#222" stroke-width="0.12">KAT5</text>
<text x="303.70" y="546.50" font-size="4.2" text-anchor="start" fill="#222" stroke="#222" stroke-width="0.12">SP1</text>
<text x="303.70" y="550.71" font-size="4.2" text-anchor="start" fill="#222" stroke="#222" stroke-width="0.12">PML</text>
<text x="303.70" y="554.91" font-size="4.2" text-anchor="start" fill="#222" stroke="#222" stroke-width="0.12">HSPA9</text>
<text x="303.70" y="559.12" font-size="4.2" text-anchor="start" fill="#222" stroke="#222" stroke-width="0.12">TP53BP2</text>
<text x="303.70" y="563.32" font-size="4.2" text-anchor="start" fill="#222" stroke="#222" stroke-width="0.12">ATR</text>
<text x="303.70" y="567.53" font-size="4.2" text-anchor="start" fill="#222" stroke="#222" stroke-width="0.12">SIRT1</text>
<text x="303.70" y="571.74" font-size="4.2" text-anchor="start" fill="#222" stroke="#222" stroke-width="0.12">UBC</text>
<text x="303.70" y="575.94" font-size="4.2" text-anchor="start" fill="#222" stroke="#222" stroke-width="0.12">CDKN1A</text>
<text x="303.70" y="580.15" font-size="4.2" text-anchor="start" fill="#222" stroke="#222" stroke-width="0.12">YY1</text>
<text x="303.70" y="584.35" font-size="4.2" text-anchor="start" fill="#222" stroke="#222" stroke-width="0.12">CHEK2</text>
<text x="303.70" y="588.56" font-size="4.2" text-anchor="start" fill="#222" stroke="#222" stroke-width="0.12">BRCA1</text>
<text x="303.70" y="592.76" font-size="4.2" text-anchor="start" fill="#222" stroke="#222" stroke-width="0.12">PCNA</text>
<text x="303.70" y="596.97" font-size="4.2" text-anchor="start" fill="#222" stroke="#222" stroke-width="0.12">CDK2</text>
<text x="303.70" y="601.18" font-size="4.2" text-anchor="start" fill="#222" stroke="#222" stroke-width="0.12">CDKN2A</text>
<text x="303.70" y="605.38" font-size="4.2" text-anchor="start" fill="#222" stroke="#222" stroke-width="0.12">CHEK1</text>
<text x="303.70" y="609.59" font-size="4.2" text-anchor="start" fill="#222" stroke="#222" stroke-width="0.12">HIF1A</text>
<text x="303.70" y="613.80" font-size="4.2" text-anchor="start" fill="#222" stroke="#222" stroke-width="0.12">MAPK9</text>
<text x="303.70" y="618.00" font-size="4.2" text-anchor="start" fill="#222" stroke="#222" stroke-width="0.12">TP53BP1</text>
<text x="303.70" y="622.21" font-size="4.2" text-anchor="start" fill="#222" stroke="#222" stroke-width="0.12">ATM</text>
<text x="303.70" y="626.41" font-size="4.2" text-anchor="start" fill="#222" stroke="#222" stroke-width="0.12">MSH2</text>
<text x="303.70" y="630.62" font-size="4.2" text-anchor="start" fill="#222" stroke="#222" stroke-width="0.12">RPA1</text>
<text x="303.70" y="634.83" font-size="4.2" text-anchor="start" fill="#222" stroke="#222" stroke-width="0.12">PARP1</text>
<text x="303.70" y="639.03" font-size="4.2" text-anchor="start" fill="#222" stroke="#222" stroke-width="0.12">PRKDC</text>
<text x="303.70" y="643.24" font-size="4.2" text-anchor="start" fill="#222" stroke="#222" stroke-width="0.12">PTEN</text>
<text x="303.70" y="647.44" font-size="4.2" text-anchor="start" fill="#222" stroke="#222" stroke-width="0.12">HDAC2</text>
<text x="303.70" y="651.65" font-size="4.2" text-anchor="start" fill="#222" stroke="#222" stroke-width="0.12">PIN1</text>
<text x="303.70" y="655.86" font-size="4.2" text-anchor="start" fill="#222" stroke="#222" stroke-width="0.12">HDAC1</text>
<text x="303.70" y="660.06" font-size="4.2" text-anchor="start" fill="#222" stroke="#222" stroke-width="0.12">SUMO1</text>
<text x="303.70" y="664.27" font-size="4.2" text-anchor="start" fill="#222" stroke="#222" stroke-width="0.12">BAX</text>
<text x="303.70" y="668.47" font-size="4.2" text-anchor="start" fill="#222" stroke="#222" stroke-width="0.12">SMYD2</text>
<text x="303.70" y="672.68" font-size="4.2" text-anchor="start" fill="#222" stroke="#222" stroke-width="0.12">PLK3</text>
<text x="303.70" y="676.88" font-size="4.2" text-anchor="start" fill="#222" stroke="#222" stroke-width="0.12">HSP90AA1</text>
<text x="303.70" y="681.09" font-size="4.2" text-anchor="start" fill="#222" stroke="#222" stroke-width="0.12">TBP</text>
<text x="105.70" y="687.30" font-size="4.4" text-anchor="end" fill="#222" textLength="9.0" lengthAdjust="spacingAndGlyphs" transform="rotate(-45 105.70 687.30)" stroke="#222" stroke-width="0.12">M725</text>
<text x="147.70" y="687.30" font-size="4.4" text-anchor="end" fill="#222" textLength="6.9" lengthAdjust="spacingAndGlyphs" transform="rotate(-45 147.70 687.30)" stroke="#222" stroke-width="0.12">MM5</text>
<text x="189.70" y="687.30" font-size="4.4" text-anchor="end" fill="#222" textLength="6.9" lengthAdjust="spacingAndGlyphs" transform="rotate(-45 189.70 687.30)" stroke="#222" stroke-width="0.12">MM8</text>
<text x="231.70" y="687.30" font-size="4.4" text-anchor="end" fill="#222" textLength="6.9" lengthAdjust="spacingAndGlyphs" transform="rotate(-45 231.70 687.30)" stroke="#222" stroke-width="0.12">MM9</text>
<text x="273.70" y="687.30" font-size="4.4" text-anchor="end" fill="#222" textLength="9.0" lengthAdjust="spacingAndGlyphs" transform="rotate(-45 273.70 687.30)" stroke="#222" stroke-width="0.12">M724</text>
<g stroke="#2e2e2e" stroke-width="1.0" stroke-linecap="square">
<line x1="85.50" y1="481.50" x2="85.50" y2="486.50"/>
<line x1="85.50" y1="481.50" x2="87.50" y2="481.50"/>
<line x1="85.50" y1="486.50" x2="87.50" y2="486.50"/>
<line x1="83.50" y1="490.50" x2="83.50" y2="494.50"/>
<line x1="83.50" y1="490.50" x2="87.50" y2="490.50"/>
<line x1="83.50" y1="494.50" x2="87.50" y2="494.50"/>
<line x1="84.50" y1="498.50" x2="84.50" y2="502.50"/>
<line x1="84.50" y1="498.50" x2="87.50" y2="498.50"/>
<line x1="84.50" y1="502.50" x2="87.50" y2="502.50"/>
<line x1="80.50" y1="492.50" x2="80.50" y2="500.50"/>
<line x1="80.50" y1="492.50" x2="83.50" y2="492.50"/>
<line x1="80.50" y1="500.50" x2="84.50" y2="500.50"/>
<line x1="79.50" y1="484.50" x2="79.50" y2="496.50"/>
<line x1="79.50" y1="484.50" x2="85.50" y2="484.50"/>
<line x1="79.50" y1="496.50" x2="80.50" y2="496.50"/>
<line x1="77.50" y1="477.50" x2="77.50" y2="490.50"/>
<line x1="77.50" y1="477.50" x2="87.50" y2="477.50"/>
<line x1="77.50" y1="490.50" x2="79.50" y2="490.50"/>
<line x1="80.50" y1="507.50" x2="80.50" y2="511.50"/>
<line x1="80.50" y1="507.50" x2="87.50" y2="507.50"/>
<line x1="80.50" y1="511.50" x2="87.50" y2="511.50"/>
<line x1="76.50" y1="484.50" x2="76.50" y2="509.50"/>
<line x1="76.50" y1="484.50" x2="77.50" y2="484.50"/>
<line x1="76.50" y1="509.50" x2="80.50" y2="509.50"/>
<line x1="87.50" y1="515.50" x2="87.50" y2="519.50"/>
<line x1="87.50" y1="515.50" x2="87.50" y2="515.50"/>
<line x1="87.50" y1="519.50" x2="87.50" y2="519.50"/>
<line x1="73.50" y1="496.50" x2="73.50" y2="517.50"/>
<line x1="73.50" y1="496.50" x2="76.50" y2="496.50"/>
<line x1="73.50" y1="517.50" x2="87.50" y2="517.50"/>
<line x1="86.50" y1="523.50" x2="86.50" y2="528.50"/>
<line x1="86.50" y1="523.50" x2="87.50" y2="523.50"/>
<line x1="86.50" y1="528.50" x2="87.50" y2="528.50"/>
<line x1="81.50" y1="526.50" x2="81.50" y2="532.50"/>
<line x1="81.50" y1="526.50" x2="86.50" y2="526.50"/>
<line x1="81.50" y1="532.50" x2="87.50" y2="532.50"/>
<line x1="65.50" y1="507.50" x2="65.50" y2="529.50"/>
<line x1="65.50" y1="507.50" x2="73.50" y2="507.50"/>
<line x1="65.50" y1="529.50" x2="81.50" y2="529.50"/>
<line x1="86.50" y1="540.50" x2="86.50" y2="544.50"/>
<line x1="86.50" y1="540.50" x2="87.50" y2="540.50"/>
<line x1="86.50" y1="544.50" x2="87.50" y2="544.50"/>
<line x1="85.50" y1="542.50" x2="85.50" y2="549.50"/>
<line x1="85.50" y1="542.50" x2="86.50" y2="542.50"/>
<line x1="85.50" y1="549.50" x2="87.50" y2="549.50"/>
<line x1="76.50" y1="536.50" x2="76.50" y2="546.50"/>
<line x1="76.50" y1="536.50" x2="87.50" y2="536.50"/>
<line x1="76.50" y1="546.50" x2="85.50" y2="546.50"/>
<line x1="83.50" y1="553.50" x2="83.50" y2="557.50"/>
<line x1="83.50" y1="553.50" x2="87.50" y2="553.50"/>
<line x1="83.50" y1="557.50" x2="87.50" y2="557.50"/>
<line x1="85.50" y1="566.50" x2="85.50" y2="570.50"/>
<line x1="85.50" y1="566.50" x2="87.50" y2="566.50"/>
<line x1="85.50" y1="570.50" x2="87.50" y2="570.50"/>
<line x1="81.50" y1="561.50" x2="81.50" y2="568.50"/>
<line x1="81.50" y1="561.50" x2="87.50" y2="561.50"/>
<line x1="81.50" y1="568.50" x2="85.50" y2="568.50"/>
<line x1="78.50" y1="555.50" x2="78.50" y2="564.50"/>
<line x1="78.50" y1="555.50" x2="83.50" y2="555.50"/>
<line x1="78.50" y1="564.50" x2="81.50" y2="564.50"/>
<line x1="85.50" y1="574.50" x2="85.50" y2="578.50"/>
<line x1="85.50" y1="574.50" x2="87.50" y2="574.50"/>
<line x1="85.50" y1="578.50" x2="87.50" y2="578.50"/>
<line x1="74.50" y1="560.50" x2="74.50" y2="576.50"/>
<line x1="74.50" y1="560.50" x2="78.50" y2="560.50"/>
<line x1="74.50" y1="576.50" x2="85.50" y2="576.50"/>
<line x1="68.50" y1="541.50" x2="68.50" y2="568.50"/>
<line x1="68.50" y1="541.50" x2="76.50" y2="541.50"/>
<line x1="68.50" y1="568.50" x2="74.50" y2="568.50"/>
<line x1="52.50" y1="518.50" x2="52.50" y2="554.50"/>
<line x1="52.50" y1="518.50" x2="65.50" y2="518.50"/>
<line x1="52.50" y1="554.50" x2="68.50" y2="554.50"/>
<line x1="81.50" y1="587.50" x2="81.50" y2="591.50"/>
<line x1="81.50" y1="587.50" x2="87.50" y2="587.50"/>
<line x1="81.50" y1="591.50" x2="87.50" y2="591.50"/>
<line x1="79.50" y1="582.50" x2="79.50" y2="589.50"/>
<line x1="79.50" y1="582.50" x2="87.50" y2="582.50"/>
<line x1="79.50" y1="589.50" x2="81.50" y2="589.50"/>
<line x1="81.50" y1="595.50" x2="81.50" y2="599.50"/>
<line x1="81.50" y1="595.50" x2="87.50" y2="595.50"/>
<line x1="81.50" y1="599.50" x2="87.50" y2="599.50"/>
<line x1="81.50" y1="603.50" x2="81.50" y2="608.50"/>
<line x1="81.50" y1="603.50" x2="87.50" y2="603.50"/>
<line x1="81.50" y1="608.50" x2="87.50" y2="608.50"/>
<line x1="79.50" y1="597.50" x2="79.50" y2="605.50"/>
<line x1="79.50" y1="597.50" x2="81.50" y2="597.50"/>
<line x1="79.50" y1="605.50" x2="81.50" y2="605.50"/>
<line x1="67.50" y1="586.50" x2="67.50" y2="601.50"/>
<line x1="67.50" y1="586.50" x2="79.50" y2="586.50"/>
<line x1="67.50" y1="601.50" x2="79.50" y2="601.50"/>
<line x1="81.50" y1="616.50" x2="81.50" y2="620.50"/>
<line x1="81.50" y1="616.50" x2="87.50" y2="616.50"/>
<line x1="81.50" y1="620.50" x2="87.50" y2="620.50"/>
<line x1="80.50" y1="612.50" x2="80.50" y2="618.50"/>
<line x1="80.50" y1="612.50" x2="87.50" y2="612.50"/>
<line x1="80.50" y1="618.50" x2="81.50" y2="618.50"/>
<line x1="84.50" y1="624.50" x2="84.50" y2="629.50"/>
<line x1="84.50" y1="624.50" x2="87.50" y2="624.50"/>
<line x1="84.50" y1="629.50" x2="87.50" y2="629.50"/>
<line x1="85.50" y1="637.50" x2="85.50" y2="641.50"/>
<line x1="85.50" y1="637.50" x2="87.50" y2="637.50"/>
<line x1="85.50" y1="641.50" x2="87.50" y2="641.50"/>
<line x1="85.50" y1="639.50" x2="85.50" y2="645.50"/>
<line x1="85.50" y1="639.50" x2="85.50" y2="639.50"/>
<line x1="85.50" y1="645.50" x2="87.50" y2="645.50"/>
<line x1="81.50" y1="633.50" x2="81.50" y2="642.50"/>
<line x1="81.50" y1="633.50" x2="87.50" y2="633.50"/>
<line x1="81.50" y1="642.50" x2="85.50" y2="642.50"/>
<line x1="80.50" y1="627.50" x2="80.50" y2="638.50"/>
<line x1="80.50" y1="627.50" x2="84.50" y2="627.50"/>
<line x1="80.50" y1="638.50" x2="81.50" y2="638.50"/>
<line x1="68.50" y1="615.50" x2="68.50" y2="632.50"/>
<line x1="68.50" y1="615.50" x2="80.50" y2="615.50"/>
<line x1="68.50" y1="632.50" x2="80.50" y2="632.50"/>
<line x1="83.50" y1="654.50" x2="83.50" y2="658.50"/>
<line x1="83.50" y1="654.50" x2="87.50" y2="654.50"/>
<line x1="83.50" y1="658.50" x2="87.50" y2="658.50"/>
<line x1="78.50" y1="650.50" x2="78.50" y2="656.50"/>
<line x1="78.50" y1="650.50" x2="87.50" y2="650.50"/>
<line x1="78.50" y1="656.50" x2="83.50" y2="656.50"/>
<line x1="85.50" y1="675.50" x2="85.50" y2="679.50"/>
<line x1="85.50" y1="675.50" x2="87.50" y2="675.50"/>
<line x1="85.50" y1="679.50" x2="87.50" y2="679.50"/>
<line x1="83.50" y1="671.50" x2="83.50" y2="677.50"/>
<line x1="83.50" y1="671.50" x2="87.50" y2="671.50"/>
<line x1="83.50" y1="677.50" x2="85.50" y2="677.50"/>
<line x1="80.50" y1="666.50" x2="80.50" y2="674.50"/>
<line x1="80.50" y1="666.50" x2="87.50" y2="666.50"/>
<line x1="80.50" y1="674.50" x2="83.50" y2="674.50"/>
<line x1="79.50" y1="662.50" x2="79.50" y2="670.50"/>
<line x1="79.50" y1="662.50" x2="87.50" y2="662.50"/>
<line x1="79.50" y1="670.50" x2="80.50" y2="670.50"/>
<line x1="73.50" y1="653.50" x2="73.50" y2="666.50"/>
<line x1="73.50" y1="653.50" x2="78.50" y2="653.50"/>
<line x1="73.50" y1="666.50" x2="79.50" y2="666.50"/>
<line x1="52.50" y1="623.50" x2="52.50" y2="660.50"/>
<line x1="52.50" y1="623.50" x2="68.50" y2="623.50"/>
<line x1="52.50" y1="660.50" x2="73.50" y2="660.50"/>
<line x1="39.50" y1="593.50" x2="39.50" y2="641.50"/>
<line x1="39.50" y1="593.50" x2="67.50" y2="593.50"/>
<line x1="39.50" y1="641.50" x2="52.50" y2="641.50"/>
<line x1="7.50" y1="536.50" x2="7.50" y2="617.50"/>
<line x1="7.50" y1="536.50" x2="52.50" y2="536.50"/>
<line x1="7.50" y1="617.50" x2="39.50" y2="617.50"/>
</g>
<text x="343.60" y="538.30" font-size="4.5" text-anchor="middle" fill="#222" textLength="19.3" lengthAdjust="spacingAndGlyphs" stroke="#222" stroke-width="0.12">Probability</text>
<text x="343.80" y="543.60" font-size="4.5" text-anchor="middle" fill="#222" stroke="#222" stroke-width="0.12">Up</text>
<rect x="341.60" y="547.40" width="3.80" height="4.38" fill="#67001f"/>
<rect x="341.60" y="551.73" width="3.80" height="4.38" fill="#b2182b"/>
<rect x="341.60" y="556.06" width="3.80" height="4.38" fill="#d6604d"/>
<rect x="341.60" y="560.39" width="3.80" height="4.38" fill="#f4a582"/>
<rect x="341.60" y="564.72" width="3.80" height="4.38" fill="#fddbc7"/>
<rect x="341.60" y="569.05" width="3.80" height="4.38" fill="#d1e5f0"/>
<rect x="341.60" y="573.38" width="3.80" height="4.38" fill="#92c5de"/>
<rect x="341.60" y="577.71" width="3.80" height="4.38" fill="#4393c3"/>
<rect x="341.60" y="582.04" width="3.80" height="4.38" fill="#2166ac"/>
<rect x="341.60" y="586.37" width="3.80" height="4.38" fill="#053061"/>
<line x1="346.60" y1="545.00" x2="346.60" y2="592.60" stroke="#000" stroke-width="0.9"/>
<line x1="346.60" y1="547.40" x2="349.80" y2="547.40" stroke="#000" stroke-width="0.7"/>
<line x1="346.60" y1="551.73" x2="349.80" y2="551.73" stroke="#000" stroke-width="0.7"/>
<line x1="346.60" y1="556.06" x2="349.80" y2="556.06" stroke="#000" stroke-width="0.7"/>
<line x1="346.60" y1="560.39" x2="349.80" y2="560.39" stroke="#000" stroke-width="0.7"/>
<line x1="346.60" y1="564.72" x2="349.80" y2="564.72" stroke="#000" stroke-width="0.7"/>
<line x1="346.60" y1="569.05" x2="349.80" y2="569.05" stroke="#000" stroke-width="0.7"/>
<line x1="346.60" y1="573.38" x2="349.80" y2="573.38" stroke="#000" stroke-width="0.7"/>
<line x1="346.60" y1="577.71" x2="349.80" y2="577.71" stroke="#000" stroke-width="0.7"/>
<line x1="346.60" y1="582.04" x2="349.80" y2="582.04" stroke="#000" stroke-width="0.7"/>
<line x1="346.60" y1="586.37" x2="349.80" y2="586.37" stroke="#000" stroke-width="0.7"/>
<line x1="346.60" y1="590.70" x2="349.80" y2="590.70" stroke="#000" stroke-width="0.7"/>
<text x="353.40" y="549.20" font-size="4.8" text-anchor="start" fill="#222" stroke="#222" stroke-width="0.12">1</text>
<text x="353.40" y="571.00" font-size="4.8" text-anchor="start" fill="#222" stroke="#222" stroke-width="0.12">0</text>
<text x="353.40" y="591.60" font-size="4.8" text-anchor="start" fill="#222" stroke="#222" stroke-width="0.12">1</text>
<text x="343.40" y="600.80" font-size="4.8" text-anchor="middle" fill="#222" textLength="10.9" lengthAdjust="spacingAndGlyphs" stroke="#222" stroke-width="0.12">Down</text>
</svg></body></html>
